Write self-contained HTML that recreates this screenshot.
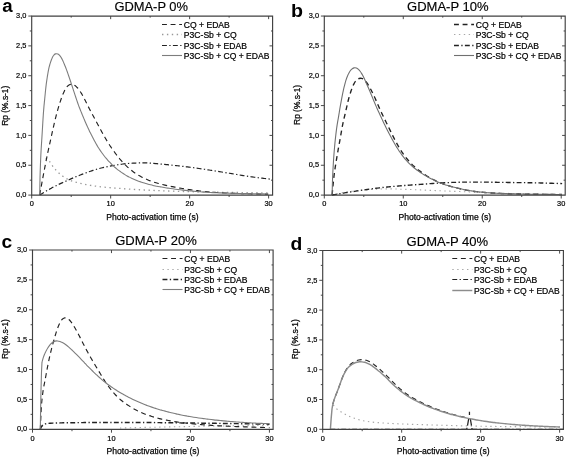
<!DOCTYPE html>
<html lang="en">
<head>
<meta charset="utf-8">
<title>Rp versus photo-activation time for GDMA-P 0%, 10%, 20% and 40%</title>
<style>
html,body{margin:0;padding:0;background:#fff;}
body{width:567px;height:458px;overflow:hidden;font-family:"Liberation Sans", sans-serif;}
svg{display:block;}
text{white-space:pre;}
</style>
</head>
<body>
<svg width="567" height="458" viewBox="0 0 567 458" font-family='"Liberation Sans", sans-serif' role="img" aria-label="Rp versus photo-activation time, four panels">
<rect width="567" height="458" fill="#fff"/>
<g>
<g stroke-linecap="butt" stroke-linejoin="round">
<path d="M45.6 158.6C45.99 158.73 47.28 158.93 47.93 159.39C48.58 159.86 49 160.71 49.5 161.4C50 162.09 50.45 162.81 50.92 163.52C51.39 164.23 51.85 164.95 52.34 165.64C52.82 166.34 53.32 167.03 53.85 167.69C54.38 168.36 54.94 169 55.51 169.63C56.08 170.26 56.67 170.88 57.27 171.48C57.87 172.08 58.48 172.68 59.11 173.24C59.74 173.81 60.39 174.36 61.06 174.89C61.72 175.42 62.41 175.93 63.1 176.42C63.8 176.91 64.5 177.38 65.23 177.83C65.95 178.28 66.68 178.71 67.44 179.1C68.19 179.49 68.97 179.85 69.75 180.17C70.54 180.5 71.34 180.78 72.14 181.06C72.95 181.33 73.76 181.59 74.58 181.83C75.39 182.07 76.21 182.3 77.03 182.52C77.85 182.74 78.68 182.95 79.5 183.15C80.33 183.35 81.16 183.55 81.99 183.73C82.82 183.92 83.65 184.09 84.48 184.26C85.32 184.43 86.15 184.59 86.99 184.74C87.83 184.9 88.66 185.05 89.5 185.19C90.34 185.33 91.18 185.48 92.02 185.61C92.86 185.75 93.7 185.88 94.54 186C95.38 186.12 96.22 186.23 97.07 186.34C97.91 186.45 98.76 186.55 99.6 186.65C100.45 186.74 101.29 186.84 102.14 186.93C102.98 187.02 103.83 187.11 104.67 187.19C105.52 187.27 106.37 187.35 107.21 187.43C108.06 187.51 108.91 187.58 109.76 187.65C110.6 187.72 111.45 187.79 112.3 187.85C113.15 187.92 113.99 187.98 114.84 188.05C115.69 188.11 116.54 188.18 117.39 188.24C118.23 188.3 119.08 188.37 119.93 188.43C120.78 188.49 121.63 188.56 122.48 188.62C123.32 188.68 124.17 188.74 125.02 188.8C125.87 188.87 126.72 188.93 127.56 188.99C128.41 189.05 129.26 189.11 130.11 189.16C130.96 189.22 131.81 189.28 132.66 189.33C133.5 189.39 134.35 189.44 135.2 189.49C136.05 189.55 136.9 189.6 137.75 189.64C138.6 189.69 139.45 189.74 140.3 189.79C141.15 189.83 141.99 189.88 142.84 189.92C143.69 189.96 144.54 190.01 145.39 190.05C146.24 190.09 147.09 190.13 147.94 190.17C148.79 190.21 149.64 190.25 150.49 190.29C151.34 190.33 152.19 190.37 153.04 190.41C153.89 190.44 154.74 190.48 155.59 190.52C156.44 190.56 157.29 190.59 158.14 190.63C158.98 190.67 159.83 190.7 160.68 190.73C161.53 190.77 162.38 190.8 163.23 190.84C164.08 190.87 164.93 190.9 165.78 190.93C166.63 190.96 167.48 190.99 168.33 191.02C169.18 191.05 170.03 191.08 170.88 191.11C171.73 191.14 172.58 191.17 173.43 191.2C174.28 191.22 175.13 191.25 175.98 191.28C176.83 191.3 177.68 191.33 178.53 191.35C179.38 191.37 180.23 191.4 181.08 191.42C181.93 191.44 182.78 191.46 183.63 191.49C184.48 191.51 185.33 191.53 186.18 191.55C187.03 191.57 187.88 191.59 188.73 191.61C189.58 191.64 190.43 191.66 191.29 191.68C192.14 191.7 192.99 191.72 193.84 191.75C194.69 191.77 195.54 191.79 196.39 191.81C197.24 191.83 198.09 191.86 198.94 191.88C199.79 191.9 200.64 191.92 201.49 191.94C202.34 191.96 203.19 191.98 204.04 191.99C204.89 192.01 205.74 192.03 206.59 192.05C207.44 192.06 208.29 192.08 209.14 192.1C209.99 192.11 210.84 192.13 211.69 192.14C212.54 192.16 213.39 192.17 214.24 192.19C215.09 192.2 215.94 192.22 216.79 192.23C217.64 192.24 218.49 192.25 219.34 192.27C220.19 192.28 221.04 192.29 221.89 192.3C222.74 192.32 223.59 192.33 224.45 192.34C225.3 192.35 226.15 192.36 227 192.38C227.85 192.39 228.7 192.4 229.55 192.41C230.4 192.42 231.25 192.43 232.1 192.44C232.95 192.46 233.8 192.47 234.65 192.48C235.5 192.49 236.35 192.5 237.2 192.51C238.05 192.52 238.9 192.53 239.75 192.54C240.6 192.55 241.45 192.56 242.3 192.57C243.15 192.59 244 192.6 244.85 192.61C245.7 192.62 246.55 192.63 247.41 192.64C248.26 192.65 249.11 192.66 249.96 192.67C250.81 192.68 251.66 192.69 252.51 192.7C253.36 192.71 254.21 192.72 255.06 192.73C255.91 192.74 256.76 192.76 257.61 192.77C258.46 192.78 259.31 192.79 260.16 192.8C261.01 192.81 261.86 192.82 262.71 192.83C263.56 192.84 264.41 192.85 265.26 192.86C266.11 192.88 267.39 192.89 267.81 192.9" fill="none" stroke="#999" stroke-width="1.3" stroke-dasharray="1.4 3.5"/>
<path d="M39.7 195C40.06 194.78 41.16 194.12 41.89 193.68C42.62 193.24 43.34 192.8 44.07 192.36C44.8 191.93 45.54 191.49 46.27 191.07C47.01 190.64 47.75 190.22 48.49 189.8C49.23 189.38 49.97 188.97 50.72 188.56C51.47 188.15 52.21 187.74 52.96 187.34C53.71 186.94 54.47 186.54 55.22 186.15C55.98 185.76 56.74 185.38 57.5 185C58.27 184.63 59.04 184.26 59.81 183.9C60.58 183.54 61.35 183.19 62.13 182.84C62.9 182.48 63.68 182.13 64.45 181.78C65.23 181.43 66 181.08 66.78 180.73C67.55 180.38 68.33 180.03 69.11 179.68C69.88 179.33 70.66 178.98 71.44 178.64C72.22 178.3 73 177.97 73.78 177.63C74.57 177.3 75.35 176.98 76.14 176.65C76.93 176.33 77.72 176.02 78.51 175.7C79.3 175.39 80.1 175.08 80.89 174.77C81.68 174.46 82.48 174.16 83.27 173.86C84.07 173.55 84.86 173.25 85.66 172.95C86.46 172.65 87.25 172.36 88.06 172.07C88.86 171.78 89.66 171.49 90.46 171.22C91.27 170.94 92.08 170.67 92.89 170.41C93.7 170.15 94.51 169.9 95.32 169.65C96.14 169.41 96.96 169.17 97.77 168.94C98.59 168.71 99.41 168.48 100.24 168.27C101.06 168.05 101.89 167.85 102.71 167.65C103.54 167.45 104.37 167.26 105.2 167.08C106.03 166.89 106.87 166.71 107.7 166.54C108.53 166.37 109.37 166.2 110.2 166.04C111.04 165.89 111.88 165.73 112.72 165.59C113.55 165.44 114.39 165.3 115.23 165.16C116.07 165.03 116.91 164.9 117.76 164.76C118.6 164.63 119.44 164.5 120.28 164.37C121.12 164.24 121.96 164.11 122.8 164C123.65 163.89 124.49 163.79 125.34 163.7C126.19 163.62 127.04 163.56 127.88 163.49C128.73 163.43 129.58 163.37 130.43 163.32C131.28 163.27 132.13 163.22 132.98 163.17C133.83 163.13 134.68 163.09 135.53 163.05C136.38 163.01 137.23 162.98 138.08 162.96C138.93 162.93 139.78 162.91 140.63 162.89C141.49 162.88 142.34 162.85 143.19 162.84C144.04 162.83 144.89 162.82 145.74 162.84C146.59 162.86 147.44 162.9 148.29 162.94C149.14 162.99 149.99 163.06 150.84 163.13C151.69 163.19 152.53 163.27 153.38 163.34C154.23 163.41 155.08 163.49 155.92 163.57C156.77 163.65 157.62 163.73 158.47 163.81C159.31 163.89 160.16 163.97 161.01 164.05C161.85 164.14 162.7 164.22 163.55 164.31C164.4 164.39 165.24 164.48 166.09 164.56C166.94 164.65 167.78 164.73 168.63 164.82C169.48 164.91 170.32 165 171.17 165.09C172.01 165.18 172.86 165.26 173.71 165.36C174.55 165.45 175.4 165.54 176.25 165.63C177.09 165.72 177.94 165.81 178.78 165.91C179.63 166 180.48 166.09 181.32 166.19C182.17 166.29 183.01 166.38 183.86 166.48C184.7 166.58 185.55 166.68 186.39 166.78C187.24 166.88 188.08 166.98 188.93 167.09C189.77 167.2 190.62 167.3 191.46 167.41C192.3 167.52 193.15 167.64 193.99 167.75C194.83 167.87 195.68 167.98 196.52 168.1C197.36 168.22 198.2 168.34 199.05 168.47C199.89 168.59 200.73 168.72 201.57 168.85C202.41 168.97 203.25 169.11 204.1 169.24C204.94 169.37 205.78 169.5 206.62 169.63C207.46 169.76 208.3 169.9 209.14 170.03C209.98 170.16 210.82 170.3 211.66 170.43C212.5 170.56 213.34 170.69 214.18 170.83C215.02 170.96 215.87 171.09 216.71 171.22C217.55 171.35 218.39 171.49 219.23 171.62C220.07 171.76 220.91 171.9 221.75 172.03C222.59 172.17 223.43 172.31 224.27 172.45C225.11 172.58 225.95 172.72 226.79 172.86C227.63 173 228.46 173.14 229.3 173.28C230.14 173.42 230.98 173.56 231.82 173.7C232.66 173.84 233.5 173.98 234.34 174.12C235.18 174.25 236.02 174.39 236.86 174.53C237.7 174.67 238.54 174.81 239.38 174.95C240.22 175.08 241.06 175.22 241.9 175.36C242.74 175.49 243.58 175.63 244.42 175.76C245.26 175.9 246.1 176.03 246.94 176.16C247.78 176.29 248.63 176.42 249.47 176.55C250.31 176.67 251.15 176.8 251.99 176.92C252.84 177.04 253.68 177.16 254.52 177.27C255.36 177.39 256.21 177.5 257.05 177.61C257.9 177.72 258.74 177.82 259.59 177.92C260.43 178.03 261.28 178.13 262.12 178.22C262.97 178.32 263.81 178.42 264.66 178.51C265.5 178.61 266.35 178.7 267.2 178.8C268.04 178.9 268.89 178.99 269.73 179.09C270.58 179.19 271.84 179.35 272.27 179.4" fill="none" stroke="#222" stroke-width="1.2" stroke-dasharray="4.9 2.4 1.3 2.3"/>
<path d="M39.7 195C39.77 194.58 40 193.34 40.15 192.51C40.3 191.68 40.45 190.85 40.59 190.02C40.74 189.19 40.89 188.35 41.04 187.52C41.19 186.69 41.34 185.86 41.49 185.03C41.64 184.2 41.79 183.37 41.94 182.54C42.09 181.71 42.25 180.88 42.4 180.05C42.56 179.22 42.71 178.39 42.87 177.56C43.03 176.74 43.18 175.91 43.34 175.08C43.5 174.25 43.66 173.42 43.82 172.59C43.98 171.76 44.14 170.93 44.3 170.11C44.46 169.28 44.62 168.45 44.78 167.62C44.94 166.79 45.1 165.96 45.27 165.14C45.43 164.31 45.59 163.48 45.75 162.65C45.91 161.82 46.08 161 46.24 160.17C46.4 159.34 46.57 158.51 46.74 157.68C46.9 156.86 47.07 156.03 47.24 155.2C47.42 154.38 47.59 153.55 47.76 152.73C47.94 151.9 48.12 151.08 48.29 150.25C48.47 149.43 48.65 148.6 48.83 147.78C49.01 146.95 49.2 146.13 49.38 145.31C49.56 144.48 49.74 143.66 49.93 142.83C50.11 142.01 50.29 141.19 50.48 140.36C50.66 139.54 50.84 138.72 51.02 137.89C51.21 137.07 51.39 136.24 51.57 135.42C51.75 134.6 51.93 133.77 52.11 132.95C52.29 132.12 52.47 131.3 52.65 130.47C52.84 129.65 53.02 128.83 53.2 128C53.38 127.18 53.57 126.36 53.76 125.53C53.94 124.71 54.13 123.89 54.33 123.07C54.52 122.24 54.72 121.42 54.92 120.6C55.12 119.78 55.32 118.97 55.53 118.15C55.73 117.33 55.94 116.51 56.15 115.69C56.37 114.88 56.58 114.06 56.8 113.25C57.02 112.43 57.24 111.62 57.47 110.8C57.69 109.99 57.92 109.18 58.15 108.37C58.39 107.56 58.62 106.75 58.87 105.94C59.11 105.13 59.36 104.33 59.62 103.52C59.88 102.72 60.14 101.92 60.41 101.12C60.67 100.31 60.94 99.51 61.22 98.72C61.49 97.92 61.76 97.12 62.06 96.33C62.36 95.54 62.67 94.76 63.01 93.98C63.34 93.21 63.7 92.44 64.07 91.68C64.44 90.93 64.8 90.16 65.22 89.43C65.63 88.69 66.04 87.94 66.55 87.28C67.07 86.62 67.64 85.95 68.31 85.47C68.98 84.99 69.79 84.57 70.59 84.41C71.38 84.26 72.3 84.32 73.09 84.55C73.87 84.77 74.63 85.25 75.31 85.74C75.98 86.23 76.56 86.87 77.14 87.48C77.71 88.1 78.24 88.76 78.75 89.43C79.27 90.1 79.77 90.78 80.24 91.48C80.71 92.18 81.15 92.9 81.58 93.62C82.01 94.35 82.41 95.09 82.81 95.83C83.22 96.58 83.6 97.33 83.99 98.08C84.37 98.83 84.75 99.59 85.12 100.34C85.5 101.1 85.87 101.86 86.24 102.61C86.62 103.37 86.99 104.12 87.37 104.88C87.76 105.63 88.14 106.38 88.53 107.13C88.91 107.88 89.31 108.63 89.7 109.37C90.09 110.12 90.49 110.87 90.89 111.61C91.28 112.36 91.68 113.1 92.08 113.84C92.48 114.59 92.87 115.33 93.27 116.08C93.67 116.82 94.07 117.56 94.47 118.31C94.87 119.05 95.27 119.79 95.67 120.53C96.07 121.28 96.47 122.02 96.88 122.76C97.28 123.5 97.68 124.24 98.09 124.98C98.49 125.73 98.89 126.47 99.29 127.21C99.69 127.95 100.09 128.7 100.49 129.44C100.89 130.18 101.29 130.93 101.69 131.67C102.1 132.41 102.5 133.15 102.91 133.89C103.32 134.63 103.73 135.36 104.15 136.09C104.58 136.82 105 137.55 105.43 138.28C105.86 139 106.3 139.73 106.74 140.45C107.18 141.17 107.62 141.89 108.07 142.6C108.52 143.32 108.97 144.03 109.42 144.74C109.88 145.45 110.34 146.15 110.82 146.85C111.29 147.55 111.77 148.25 112.25 148.94C112.74 149.63 113.23 150.31 113.72 151C114.21 151.68 114.71 152.37 115.2 153.05C115.7 153.73 116.2 154.42 116.7 155.09C117.21 155.76 117.73 156.43 118.25 157.09C118.78 157.75 119.32 158.4 119.86 159.05C120.41 159.69 120.96 160.33 121.52 160.96C122.08 161.59 122.65 162.21 123.23 162.83C123.81 163.44 124.39 164.05 124.99 164.64C125.59 165.24 126.2 165.82 126.82 166.4C127.44 166.97 128.07 167.53 128.7 168.09C129.34 168.65 129.98 169.19 130.63 169.73C131.28 170.27 131.93 170.8 132.6 171.32C133.27 171.83 133.94 172.34 134.63 172.83C135.32 173.32 136.02 173.79 136.73 174.24C137.45 174.69 138.17 175.12 138.91 175.54C139.64 175.95 140.39 176.35 141.14 176.73C141.89 177.12 142.64 177.5 143.4 177.87C144.16 178.23 144.92 178.6 145.69 178.94C146.46 179.29 147.24 179.63 148.02 179.95C148.79 180.27 149.58 180.58 150.37 180.88C151.16 181.18 151.95 181.47 152.75 181.75C153.55 182.02 154.35 182.28 155.16 182.53C155.96 182.78 156.78 183 157.59 183.23C158.4 183.45 159.22 183.67 160.04 183.88C160.85 184.09 161.67 184.3 162.49 184.5C163.31 184.7 164.13 184.9 164.95 185.09C165.77 185.28 166.6 185.46 167.42 185.64C168.25 185.83 169.07 186 169.9 186.17C170.72 186.35 171.55 186.52 172.38 186.68C173.2 186.85 174.03 187.01 174.86 187.17C175.69 187.33 176.52 187.48 177.35 187.63C178.18 187.79 179.01 187.93 179.84 188.08C180.67 188.22 181.51 188.36 182.34 188.5C183.17 188.64 184 188.77 184.84 188.9C185.67 189.03 186.51 189.15 187.34 189.27C188.18 189.4 189.01 189.52 189.85 189.64C190.68 189.77 191.52 189.89 192.35 190.01C193.19 190.13 194.02 190.25 194.86 190.36C195.69 190.47 196.53 190.58 197.37 190.69C198.21 190.79 199.04 190.89 199.88 190.99C200.72 191.08 201.56 191.17 202.4 191.26C203.24 191.35 204.08 191.43 204.92 191.52C205.76 191.6 206.6 191.68 207.44 191.76C208.28 191.84 209.12 191.91 209.96 191.98C210.8 192.06 211.64 192.12 212.48 192.19C213.32 192.26 214.17 192.32 215.01 192.38C215.85 192.44 216.69 192.49 217.53 192.55C218.38 192.6 219.22 192.65 220.06 192.7C220.9 192.75 221.75 192.79 222.59 192.84C223.43 192.88 224.27 192.92 225.12 192.96C225.96 193 226.8 193.04 227.65 193.08C228.49 193.12 229.33 193.15 230.17 193.19C231.02 193.22 231.86 193.26 232.7 193.29C233.55 193.33 234.39 193.36 235.23 193.39C236.08 193.42 236.92 193.45 237.76 193.47C238.61 193.5 239.45 193.52 240.29 193.55C241.14 193.57 241.98 193.6 242.83 193.62C243.67 193.64 244.51 193.66 245.36 193.68C246.2 193.7 247.04 193.72 247.89 193.74C248.73 193.76 249.57 193.78 250.42 193.8C251.26 193.82 252.11 193.83 252.95 193.85C253.79 193.87 254.64 193.88 255.48 193.9C256.32 193.91 257.17 193.93 258.01 193.94C258.85 193.96 259.7 193.97 260.54 193.98C261.39 193.99 262.23 194.01 263.07 194.02C263.92 194.03 264.76 194.04 265.6 194.06C266.45 194.07 267.71 194.09 268.14 194.1" fill="none" stroke="#222" stroke-width="1.15" stroke-dasharray="4.9 3.7"/>
<path d="M39.7 195C39.71 194.58 39.73 193.32 39.75 192.49C39.76 191.65 39.78 190.81 39.79 189.97C39.81 189.13 39.82 188.29 39.83 187.46C39.85 186.62 39.86 185.78 39.88 184.94C39.89 184.1 39.91 183.26 39.92 182.43C39.94 181.59 39.96 180.75 39.98 179.91C39.99 179.07 40.01 178.23 40.03 177.4C40.06 176.56 40.08 175.72 40.1 174.88C40.13 174.04 40.15 173.21 40.18 172.37C40.21 171.53 40.23 170.69 40.26 169.85C40.29 169.02 40.32 168.18 40.35 167.34C40.38 166.5 40.41 165.66 40.44 164.83C40.47 163.99 40.5 163.15 40.54 162.31C40.57 161.47 40.6 160.64 40.64 159.8C40.67 158.96 40.71 158.12 40.75 157.29C40.78 156.45 40.82 155.61 40.86 154.77C40.9 153.94 40.94 153.1 40.99 152.26C41.03 151.42 41.08 150.59 41.13 149.75C41.17 148.91 41.22 148.08 41.28 147.24C41.33 146.4 41.38 145.57 41.44 144.73C41.49 143.89 41.55 143.06 41.6 142.22C41.65 141.38 41.71 140.55 41.76 139.71C41.82 138.87 41.87 138.04 41.92 137.2C41.98 136.36 42.03 135.53 42.08 134.69C42.13 133.85 42.18 133.01 42.23 132.18C42.28 131.34 42.33 130.5 42.38 129.67C42.43 128.83 42.48 127.99 42.53 127.16C42.58 126.32 42.63 125.48 42.68 124.65C42.73 123.81 42.78 122.97 42.83 122.13C42.88 121.3 42.94 120.46 42.99 119.62C43.04 118.79 43.09 117.95 43.15 117.11C43.2 116.28 43.26 115.44 43.31 114.6C43.37 113.77 43.43 112.93 43.49 112.1C43.56 111.26 43.62 110.42 43.69 109.59C43.76 108.75 43.83 107.92 43.9 107.08C43.97 106.25 44.05 105.41 44.13 104.58C44.21 103.74 44.3 102.91 44.38 102.07C44.46 101.24 44.55 100.41 44.64 99.57C44.72 98.74 44.81 97.9 44.89 97.07C44.98 96.23 45.06 95.4 45.14 94.57C45.22 93.73 45.3 92.9 45.38 92.06C45.46 91.23 45.54 90.39 45.63 89.56C45.71 88.73 45.8 87.89 45.9 87.06C45.99 86.23 46.09 85.39 46.2 84.56C46.3 83.73 46.41 82.9 46.53 82.07C46.64 81.24 46.76 80.41 46.89 79.58C47.01 78.75 47.14 77.92 47.27 77.09C47.4 76.26 47.53 75.44 47.67 74.61C47.81 73.78 47.95 72.96 48.1 72.13C48.25 71.31 48.41 70.48 48.58 69.66C48.75 68.84 48.92 68.02 49.12 67.21C49.32 66.39 49.53 65.58 49.76 64.77C49.99 63.97 50.24 63.17 50.5 62.37C50.76 61.57 51.04 60.78 51.33 60C51.63 59.21 51.92 58.42 52.29 57.67C52.66 56.92 53.01 56.12 53.54 55.49C54.06 54.86 54.71 54.14 55.43 53.88C56.15 53.63 57.14 53.69 57.87 53.97C58.6 54.24 59.25 54.93 59.81 55.54C60.37 56.15 60.8 56.89 61.23 57.61C61.66 58.33 62.02 59.09 62.39 59.84C62.76 60.59 63.11 61.36 63.45 62.12C63.79 62.89 64.12 63.66 64.45 64.43C64.78 65.2 65.09 65.98 65.4 66.76C65.71 67.54 66.01 68.32 66.3 69.11C66.59 69.89 66.88 70.68 67.16 71.47C67.44 72.26 67.71 73.06 67.99 73.85C68.26 74.64 68.54 75.43 68.81 76.23C69.08 77.02 69.35 77.81 69.62 78.61C69.89 79.4 70.15 80.2 70.42 80.99C70.68 81.79 70.94 82.58 71.21 83.38C71.47 84.18 71.73 84.97 71.99 85.77C72.26 86.57 72.52 87.36 72.78 88.16C73.04 88.95 73.3 89.75 73.57 90.55C73.83 91.34 74.09 92.14 74.35 92.94C74.61 93.73 74.87 94.53 75.14 95.33C75.4 96.12 75.67 96.92 75.93 97.71C76.2 98.51 76.47 99.3 76.74 100.1C77.01 100.89 77.28 101.68 77.56 102.47C77.83 103.27 78.11 104.06 78.4 104.84C78.69 105.63 78.98 106.42 79.28 107.2C79.58 107.98 79.89 108.76 80.2 109.54C80.5 110.32 80.82 111.1 81.13 111.88C81.44 112.66 81.76 113.43 82.07 114.21C82.39 114.99 82.71 115.76 83.03 116.54C83.35 117.31 83.67 118.08 84 118.86C84.33 119.63 84.66 120.4 84.99 121.17C85.32 121.94 85.65 122.71 85.99 123.48C86.33 124.24 86.67 125.01 87.01 125.78C87.35 126.54 87.7 127.31 88.05 128.07C88.4 128.83 88.75 129.59 89.11 130.35C89.47 131.1 89.83 131.86 90.2 132.61C90.57 133.37 90.95 134.12 91.33 134.86C91.71 135.61 92.09 136.36 92.48 137.1C92.87 137.84 93.26 138.58 93.66 139.32C94.06 140.06 94.46 140.79 94.87 141.53C95.27 142.26 95.68 142.99 96.09 143.72C96.5 144.45 96.92 145.18 97.34 145.91C97.77 146.63 98.2 147.35 98.65 148.05C99.1 148.76 99.57 149.46 100.04 150.15C100.51 150.85 100.99 151.53 101.48 152.21C101.97 152.89 102.47 153.57 102.97 154.24C103.47 154.91 103.97 155.58 104.49 156.25C105 156.91 105.51 157.57 106.04 158.22C106.57 158.87 107.11 159.52 107.66 160.14C108.22 160.77 108.79 161.39 109.37 161.99C109.96 162.59 110.56 163.18 111.16 163.76C111.76 164.35 112.37 164.92 112.97 165.5C113.58 166.08 114.17 166.68 114.79 167.24C115.41 167.81 116.04 168.36 116.69 168.89C117.34 169.42 118.02 169.92 118.69 170.41C119.37 170.91 120.06 171.39 120.74 171.87C121.43 172.35 122.12 172.82 122.82 173.28C123.52 173.75 124.22 174.21 124.93 174.65C125.65 175.09 126.37 175.52 127.09 175.94C127.82 176.35 128.56 176.75 129.31 177.13C130.05 177.52 130.81 177.89 131.56 178.24C132.32 178.6 133.09 178.95 133.85 179.28C134.62 179.62 135.4 179.95 136.17 180.26C136.95 180.57 137.74 180.87 138.52 181.15C139.31 181.44 140.11 181.71 140.9 181.98C141.7 182.24 142.49 182.5 143.29 182.75C144.09 183 144.9 183.25 145.7 183.49C146.5 183.73 147.31 183.96 148.12 184.18C148.92 184.41 149.73 184.62 150.55 184.83C151.36 185.03 152.17 185.23 152.99 185.42C153.81 185.61 154.63 185.78 155.45 185.95C156.27 186.12 157.1 186.27 157.92 186.43C158.74 186.58 159.57 186.73 160.4 186.87C161.22 187.02 162.05 187.16 162.87 187.3C163.7 187.44 164.53 187.58 165.36 187.71C166.18 187.85 167.01 187.98 167.84 188.1C168.67 188.23 169.5 188.35 170.33 188.48C171.16 188.6 171.99 188.72 172.82 188.83C173.65 188.95 174.48 189.06 175.31 189.17C176.14 189.28 176.97 189.39 177.8 189.5C178.64 189.61 179.47 189.71 180.3 189.81C181.13 189.91 181.96 190.01 182.8 190.11C183.63 190.21 184.46 190.3 185.3 190.39C186.13 190.48 186.96 190.57 187.8 190.66C188.63 190.75 189.47 190.83 190.3 190.92C191.13 191 191.97 191.09 192.8 191.17C193.64 191.25 194.47 191.33 195.31 191.41C196.14 191.48 196.98 191.56 197.81 191.63C198.65 191.7 199.48 191.76 200.32 191.82C201.16 191.89 201.99 191.94 202.83 192C203.67 192.06 204.5 192.11 205.34 192.16C206.18 192.22 207.01 192.27 207.85 192.31C208.69 192.36 209.52 192.41 210.36 192.45C211.2 192.5 212.04 192.54 212.87 192.58C213.71 192.63 214.55 192.67 215.39 192.7C216.22 192.74 217.06 192.78 217.9 192.81C218.74 192.85 219.57 192.88 220.41 192.91C221.25 192.94 222.09 192.97 222.93 193C223.76 193.03 224.6 193.05 225.44 193.08C226.28 193.11 227.12 193.13 227.95 193.16C228.79 193.18 229.63 193.21 230.47 193.23C231.31 193.25 232.14 193.28 232.98 193.3C233.82 193.33 234.66 193.35 235.5 193.37C236.34 193.39 237.17 193.41 238.01 193.43C238.85 193.45 239.69 193.47 240.53 193.49C241.36 193.51 242.2 193.53 243.04 193.55C243.88 193.57 244.72 193.58 245.56 193.6C246.39 193.62 247.23 193.63 248.07 193.65C248.91 193.67 249.75 193.69 250.59 193.7C251.42 193.72 252.26 193.73 253.1 193.75C253.94 193.76 254.78 193.78 255.61 193.79C256.45 193.81 257.29 193.82 258.13 193.84C258.97 193.85 259.81 193.86 260.64 193.88C261.48 193.89 262.32 193.9 263.16 193.92C264 193.93 264.84 193.94 265.67 193.96C266.51 193.97 267.77 193.99 268.19 194" fill="none" stroke="#7d7d7d" stroke-width="1.1"/>
</g>
<g stroke="#404040" stroke-width="1.15" fill="none" stroke-linecap="butt">
<path d="M31.7 16.05H272.6V195.1H31.7Z"/>
<path d="M31.7 195.1v3.4M71.19 195.1v1.9M71.19 16.05v1.6M110.67 195.1v3.4M110.67 16.05v3.1M150.16 195.1v1.9M150.16 16.05v1.6M189.64 195.1v3.4M189.64 16.05v3.1M229.12 195.1v1.9M229.12 16.05v1.6M268.61 195.1v3.4M268.61 16.05v3.1M31.7 195.1h-3.4M31.7 180.18h-1.9M272.6 180.18h-1.6M31.7 165.26h-3.4M272.6 165.26h-3.1M31.7 150.34h-1.9M272.6 150.34h-1.6M31.7 135.42h-3.4M272.6 135.42h-3.1M31.7 120.5h-1.9M272.6 120.5h-1.6M31.7 105.58h-3.4M272.6 105.58h-3.1M31.7 90.65h-1.9M272.6 90.65h-1.6M31.7 75.73h-3.4M272.6 75.73h-3.1M31.7 60.81h-1.9M272.6 60.81h-1.6M31.7 45.89h-3.4M272.6 45.89h-3.1M31.7 30.97h-1.9M272.6 30.97h-1.6M31.7 16.05h-3.4" stroke-width="0.95"/>
</g>
<g font-size="7.4" fill="#000" stroke="#000" stroke-width="0.2">
<text x="31.7" y="206.3" text-anchor="middle">0</text>
<text x="110.67" y="206.3" text-anchor="middle">10</text>
<text x="189.64" y="206.3" text-anchor="middle">20</text>
<text x="268.61" y="206.3" text-anchor="middle">30</text>
<text x="26.4" y="197.2" text-anchor="end">0,0</text>
<text x="26.4" y="167.36" text-anchor="end">0,5</text>
<text x="26.4" y="137.52" text-anchor="end">1,0</text>
<text x="26.4" y="107.67" text-anchor="end">1,5</text>
<text x="26.4" y="77.83" text-anchor="end">2,0</text>
<text x="26.4" y="47.99" text-anchor="end">2,5</text>
<text x="26.4" y="18.15" text-anchor="end">3,0</text>
</g>
<text x="106.2" y="220.1" font-size="8.5" textLength="92.4" lengthAdjust="spacingAndGlyphs" fill="#0a0a0a" stroke="#000" stroke-width="0.25">Photo-activation time (s)</text>
<text transform="translate(8.4 125.7) rotate(-90)" font-size="8.5" textLength="40" lengthAdjust="spacingAndGlyphs" fill="#0a0a0a" stroke="#000" stroke-width="0.25">Rp (%.s-1)</text>
<text x="114.4" y="11.45" font-size="13.1" textLength="73.6" lengthAdjust="spacingAndGlyphs" fill="#000" stroke="#000" stroke-width="0.15">GDMA-P 0%</text>
<text x="2.3" y="12.35" font-size="17.6" font-weight="bold" fill="#000" textLength="10.4" lengthAdjust="spacingAndGlyphs">a</text>
<g font-size="8.6" fill="#000">
<path d="M162 24.5H182" fill="none" stroke="#222" stroke-width="1.15" stroke-dasharray="4.9 3.7"/>
<text x="183.8" y="27.5" textLength="46" lengthAdjust="spacingAndGlyphs" stroke="#000" stroke-width="0.22">CQ + EDAB</text>
<path d="M162 34.5H182" fill="none" stroke="#999" stroke-width="1.3" stroke-dasharray="1.4 3.5"/>
<text x="183.8" y="37.5" textLength="52.8" lengthAdjust="spacingAndGlyphs" stroke="#000" stroke-width="0.22">P3C-Sb + CQ</text>
<path d="M162 45.5H182" fill="none" stroke="#222" stroke-width="1.2" stroke-dasharray="4.9 2.4 1.3 2.3"/>
<text x="183.8" y="48.5" textLength="63.1" lengthAdjust="spacingAndGlyphs" stroke="#000" stroke-width="0.22">P3C-Sb + EDAB</text>
<path d="M162 55.5H182" fill="none" stroke="#7d7d7d" stroke-width="1.1"/>
<text x="183.8" y="58.5" textLength="85.6" lengthAdjust="spacingAndGlyphs" stroke="#000" stroke-width="0.22">P3C-Sb + CQ + EDAB</text>
</g>
</g>
<g>
<g stroke-linecap="butt" stroke-linejoin="round">
<path d="M332.1 195C332.51 194.91 333.76 194.65 334.58 194.48C335.41 194.3 336.24 194.12 337.06 193.94C337.89 193.76 338.72 193.58 339.55 193.4C340.37 193.23 341.2 193.06 342.03 192.9C342.87 192.74 343.7 192.59 344.53 192.44C345.37 192.3 346.2 192.17 347.04 192.04C347.87 191.91 348.71 191.78 349.55 191.66C350.39 191.54 351.22 191.42 352.06 191.31C352.9 191.19 353.74 191.08 354.58 190.98C355.42 190.87 356.26 190.77 357.1 190.67C357.94 190.58 358.78 190.49 359.62 190.4C360.47 190.31 361.31 190.23 362.15 190.16C362.99 190.08 363.84 190.01 364.68 189.95C365.52 189.88 366.37 189.82 367.21 189.76C368.06 189.71 368.9 189.65 369.75 189.6C370.59 189.55 371.44 189.5 372.28 189.46C373.13 189.41 373.97 189.37 374.82 189.32C375.66 189.28 376.51 189.24 377.35 189.21C378.2 189.17 379.04 189.14 379.89 189.1C380.73 189.07 381.58 189.04 382.43 189.02C383.27 188.99 384.12 188.96 384.96 188.94C385.81 188.92 386.65 188.9 387.5 188.89C388.35 188.88 389.19 188.88 390.04 188.88C390.89 188.88 391.73 188.89 392.58 188.91C393.42 188.92 394.27 188.95 395.12 188.98C395.96 189 396.81 189.04 397.65 189.07C398.5 189.11 399.34 189.14 400.19 189.18C401.03 189.21 401.88 189.24 402.73 189.27C403.57 189.3 404.42 189.33 405.26 189.36C406.11 189.38 406.95 189.41 407.8 189.44C408.65 189.47 409.49 189.5 410.34 189.53C411.18 189.56 412.03 189.59 412.87 189.62C413.72 189.65 414.57 189.68 415.41 189.72C416.26 189.75 417.1 189.78 417.95 189.82C418.79 189.85 419.64 189.88 420.48 189.92C421.33 189.96 422.18 189.99 423.02 190.03C423.87 190.07 424.71 190.11 425.56 190.15C426.4 190.19 427.25 190.23 428.09 190.27C428.94 190.31 429.78 190.35 430.63 190.39C431.47 190.43 432.32 190.47 433.16 190.51C434.01 190.54 434.85 190.58 435.7 190.62C436.55 190.65 437.39 190.69 438.24 190.72C439.08 190.76 439.93 190.79 440.77 190.82C441.62 190.86 442.46 190.89 443.31 190.92C444.16 190.96 445 190.99 445.85 191.02C446.69 191.06 447.54 191.09 448.38 191.12C449.23 191.16 450.07 191.19 450.92 191.22C451.77 191.26 452.61 191.29 453.46 191.32C454.3 191.36 455.15 191.39 455.99 191.42C456.84 191.46 457.68 191.49 458.53 191.52C459.38 191.56 460.22 191.59 461.07 191.62C461.91 191.66 462.76 191.69 463.6 191.72C464.45 191.76 465.29 191.79 466.14 191.82C466.99 191.86 467.83 191.89 468.68 191.93C469.52 191.96 470.37 191.99 471.21 192.03C472.06 192.06 472.9 192.1 473.75 192.13C474.59 192.17 475.44 192.21 476.29 192.24C477.13 192.28 477.98 192.32 478.82 192.35C479.67 192.39 480.51 192.42 481.36 192.46C482.2 192.5 483.05 192.53 483.89 192.57C484.74 192.6 485.59 192.63 486.43 192.67C487.28 192.7 488.12 192.73 488.97 192.76C489.81 192.79 490.66 192.82 491.51 192.86C492.35 192.89 493.2 192.92 494.04 192.95C494.89 192.98 495.73 193.01 496.58 193.04C497.42 193.07 498.27 193.1 499.12 193.13C499.96 193.16 500.81 193.19 501.65 193.22C502.5 193.25 503.34 193.28 504.19 193.3C505.04 193.33 505.88 193.36 506.73 193.38C507.57 193.41 508.42 193.43 509.27 193.46C510.11 193.48 510.96 193.5 511.8 193.52C512.65 193.54 513.49 193.56 514.34 193.58C515.19 193.6 516.03 193.62 516.88 193.64C517.72 193.66 518.57 193.68 519.42 193.7C520.26 193.71 521.11 193.73 521.96 193.74C522.8 193.76 523.65 193.78 524.49 193.79C525.34 193.81 526.19 193.82 527.03 193.84C527.88 193.85 528.72 193.87 529.57 193.88C530.42 193.9 531.26 193.91 532.11 193.92C532.95 193.94 533.8 193.95 534.65 193.97C535.49 193.98 536.34 193.99 537.18 194.01C538.03 194.02 538.88 194.03 539.72 194.05C540.57 194.06 541.42 194.08 542.26 194.09C543.11 194.1 543.95 194.12 544.8 194.13C545.65 194.14 546.49 194.16 547.34 194.17C548.18 194.18 549.03 194.2 549.88 194.21C550.72 194.23 551.57 194.24 552.41 194.26C553.26 194.27 554.53 194.29 554.95 194.3" fill="none" stroke="#a8a8a8" stroke-width="1.1" stroke-dasharray="1.4 3.5"/>
<path d="M332.1 195C332.52 194.93 333.77 194.72 334.6 194.58C335.43 194.44 336.27 194.3 337.1 194.16C337.94 194.02 338.77 193.87 339.6 193.73C340.44 193.59 341.27 193.45 342.1 193.32C342.94 193.18 343.77 193.04 344.61 192.91C345.44 192.77 346.28 192.64 347.11 192.5C347.95 192.37 348.78 192.24 349.62 192.1C350.45 191.97 351.29 191.84 352.12 191.71C352.96 191.58 353.79 191.45 354.63 191.32C355.46 191.19 356.3 191.06 357.13 190.93C357.97 190.8 358.81 190.68 359.64 190.55C360.48 190.43 361.31 190.3 362.15 190.18C362.99 190.06 363.82 189.94 364.66 189.82C365.5 189.7 366.34 189.58 367.17 189.47C368.01 189.35 368.85 189.23 369.68 189.12C370.52 189 371.36 188.89 372.2 188.78C373.04 188.67 373.87 188.56 374.71 188.45C375.55 188.34 376.39 188.24 377.23 188.13C378.07 188.03 378.91 187.93 379.75 187.83C380.59 187.73 381.43 187.63 382.27 187.54C383.11 187.44 383.95 187.35 384.79 187.26C385.63 187.17 386.47 187.09 387.31 187C388.15 186.92 388.99 186.83 389.83 186.75C390.68 186.67 391.52 186.59 392.36 186.51C393.2 186.44 394.04 186.36 394.89 186.29C395.73 186.21 396.57 186.14 397.41 186.07C398.26 186 399.1 185.92 399.94 185.86C400.78 185.79 401.63 185.72 402.47 185.66C403.31 185.59 404.15 185.53 405 185.47C405.84 185.41 406.68 185.35 407.53 185.29C408.37 185.23 409.21 185.18 410.06 185.12C410.9 185.06 411.75 185.01 412.59 184.95C413.43 184.89 414.28 184.83 415.12 184.78C415.96 184.72 416.81 184.66 417.65 184.6C418.49 184.53 419.34 184.47 420.18 184.41C421.02 184.35 421.86 184.28 422.71 184.22C423.55 184.15 424.39 184.09 425.24 184.02C426.08 183.96 426.92 183.89 427.77 183.83C428.61 183.76 429.45 183.7 430.29 183.64C431.14 183.58 431.98 183.52 432.82 183.46C433.67 183.41 434.51 183.35 435.36 183.3C436.2 183.24 437.04 183.19 437.89 183.14C438.73 183.09 439.57 183.04 440.42 182.99C441.26 182.94 442.11 182.9 442.95 182.85C443.79 182.8 444.64 182.76 445.48 182.72C446.33 182.67 447.17 182.63 448.02 182.6C448.86 182.56 449.71 182.52 450.55 182.49C451.4 182.45 452.24 182.42 453.09 182.39C453.93 182.37 454.78 182.34 455.62 182.32C456.47 182.29 457.31 182.27 458.16 182.25C459 182.23 459.85 182.22 460.69 182.2C461.54 182.19 462.38 182.17 463.23 182.16C464.07 182.15 464.92 182.14 465.76 182.13C466.61 182.13 467.45 182.12 468.3 182.11C469.15 182.11 469.99 182.1 470.84 182.1C471.68 182.09 472.53 182.09 473.37 182.09C474.22 182.09 475.06 182.09 475.91 182.09C476.75 182.1 477.6 182.1 478.44 182.1C479.29 182.11 480.14 182.11 480.98 182.12C481.83 182.12 482.67 182.13 483.52 182.14C484.36 182.15 485.21 182.15 486.05 182.16C486.9 182.17 487.74 182.18 488.59 182.19C489.44 182.19 490.28 182.2 491.13 182.21C491.97 182.22 492.82 182.23 493.66 182.24C494.51 182.25 495.35 182.27 496.2 182.28C497.04 182.29 497.89 182.31 498.73 182.32C499.58 182.33 500.42 182.35 501.27 182.36C502.12 182.37 502.96 182.39 503.81 182.4C504.65 182.42 505.5 182.43 506.34 182.44C507.19 182.46 508.03 182.47 508.88 182.48C509.72 182.5 510.57 182.51 511.41 182.52C512.26 182.53 513.1 182.54 513.95 182.55C514.79 182.57 515.64 182.58 516.49 182.59C517.33 182.6 518.18 182.61 519.02 182.62C519.87 182.63 520.71 182.64 521.56 182.65C522.4 182.66 523.25 182.67 524.09 182.68C524.94 182.69 525.78 182.71 526.63 182.72C527.48 182.73 528.32 182.74 529.17 182.75C530.01 182.77 530.86 182.78 531.7 182.79C532.55 182.81 533.39 182.82 534.24 182.84C535.08 182.85 535.93 182.87 536.77 182.89C537.62 182.9 538.46 182.92 539.31 182.94C540.15 182.96 541 182.98 541.84 183C542.69 183.02 543.53 183.04 544.38 183.07C545.23 183.09 546.07 183.11 546.92 183.14C547.76 183.16 548.61 183.19 549.45 183.21C550.3 183.24 551.14 183.26 551.99 183.29C552.83 183.32 553.68 183.34 554.52 183.37C555.37 183.39 556.21 183.42 557.06 183.45C557.9 183.47 558.75 183.5 559.59 183.52C560.44 183.55 561.7 183.58 562.13 183.6" fill="none" stroke="#222" stroke-width="1.35" stroke-dasharray="4.9 2.4 1.3 2.3"/>
<path d="M332.1 195C332.14 194.58 332.27 193.32 332.35 192.49C332.43 191.65 332.51 190.81 332.59 189.97C332.67 189.14 332.75 188.3 332.83 187.46C332.9 186.62 332.98 185.78 333.06 184.94C333.14 184.11 333.23 183.27 333.31 182.43C333.39 181.59 333.48 180.76 333.57 179.92C333.66 179.08 333.75 178.25 333.85 177.41C333.94 176.57 334.04 175.74 334.15 174.9C334.26 174.07 334.37 173.23 334.48 172.4C334.6 171.57 334.71 170.73 334.84 169.9C334.96 169.07 335.08 168.23 335.21 167.4C335.34 166.57 335.47 165.74 335.6 164.91C335.74 164.08 335.87 163.24 336.01 162.41C336.14 161.58 336.28 160.75 336.42 159.92C336.55 159.09 336.69 158.26 336.83 157.43C336.97 156.6 337.11 155.77 337.25 154.94C337.39 154.11 337.53 153.28 337.68 152.45C337.82 151.62 337.97 150.79 338.12 149.96C338.26 149.14 338.41 148.31 338.56 147.48C338.71 146.65 338.86 145.82 339.01 144.99C339.16 144.17 339.31 143.34 339.46 142.51C339.61 141.68 339.76 140.85 339.91 140.02C340.05 139.19 340.2 138.37 340.35 137.54C340.49 136.71 340.64 135.88 340.78 135.05C340.93 134.22 341.07 133.39 341.22 132.56C341.37 131.73 341.51 130.9 341.66 130.08C341.81 129.25 341.96 128.42 342.11 127.59C342.26 126.76 342.42 125.94 342.58 125.11C342.74 124.28 342.91 123.46 343.08 122.64C343.26 121.81 343.44 120.99 343.63 120.17C343.82 119.35 344.01 118.53 344.21 117.71C344.4 116.89 344.6 116.07 344.79 115.25C344.98 114.43 345.17 113.61 345.37 112.8C345.56 111.98 345.75 111.16 345.94 110.34C346.14 109.52 346.33 108.7 346.52 107.88C346.71 107.06 346.9 106.24 347.09 105.42C347.28 104.6 347.46 103.77 347.64 102.95C347.83 102.13 348.02 101.31 348.22 100.49C348.42 99.68 348.63 98.86 348.85 98.05C349.07 97.24 349.31 96.43 349.55 95.62C349.79 94.82 350.04 94.01 350.3 93.21C350.55 92.41 350.82 91.61 351.09 90.81C351.36 90.02 351.63 89.22 351.93 88.43C352.22 87.64 352.52 86.86 352.86 86.08C353.19 85.31 353.54 84.54 353.94 83.81C354.34 83.07 354.76 82.32 355.26 81.65C355.76 80.98 356.31 80.31 356.95 79.79C357.59 79.26 358.34 78.75 359.11 78.5C359.88 78.25 360.81 78.14 361.59 78.3C362.38 78.46 363.15 78.97 363.82 79.46C364.48 79.94 365.05 80.61 365.6 81.24C366.15 81.87 366.65 82.55 367.14 83.24C367.62 83.93 368.07 84.64 368.51 85.36C368.96 86.07 369.38 86.8 369.79 87.54C370.2 88.27 370.58 89.02 370.97 89.77C371.36 90.51 371.74 91.27 372.11 92.02C372.49 92.77 372.86 93.53 373.22 94.29C373.59 95.05 373.95 95.81 374.3 96.57C374.66 97.33 375.01 98.1 375.36 98.86C375.71 99.63 376.05 100.4 376.39 101.17C376.73 101.94 377.06 102.71 377.4 103.49C377.73 104.26 378.05 105.04 378.38 105.81C378.72 106.58 379.05 107.36 379.39 108.13C379.73 108.89 380.08 109.66 380.44 110.42C380.79 111.19 381.15 111.95 381.52 112.71C381.88 113.47 382.25 114.22 382.61 114.98C382.98 115.74 383.35 116.5 383.72 117.25C384.09 118.01 384.45 118.77 384.82 119.52C385.19 120.28 385.56 121.04 385.93 121.79C386.3 122.55 386.68 123.3 387.05 124.06C387.42 124.81 387.79 125.57 388.16 126.33C388.53 127.08 388.9 127.84 389.27 128.59C389.64 129.35 390.01 130.11 390.38 130.86C390.75 131.62 391.12 132.37 391.49 133.13C391.86 133.88 392.23 134.64 392.61 135.39C392.99 136.15 393.36 136.9 393.75 137.65C394.13 138.4 394.52 139.14 394.91 139.89C395.3 140.64 395.69 141.38 396.09 142.12C396.49 142.86 396.89 143.6 397.3 144.34C397.71 145.07 398.12 145.81 398.54 146.54C398.97 147.26 399.4 147.99 399.84 148.71C400.27 149.43 400.72 150.14 401.18 150.85C401.63 151.55 402.09 152.26 402.57 152.95C403.04 153.65 403.53 154.34 404.02 155.02C404.52 155.7 405.02 156.37 405.54 157.04C406.05 157.7 406.58 158.36 407.11 159.01C407.65 159.66 408.19 160.3 408.75 160.94C409.3 161.57 409.87 162.2 410.44 162.81C411.02 163.42 411.61 164.02 412.21 164.61C412.81 165.2 413.42 165.78 414.05 166.35C414.67 166.91 415.31 167.46 415.95 168.01C416.59 168.55 417.24 169.08 417.9 169.61C418.56 170.13 419.22 170.65 419.89 171.16C420.56 171.67 421.23 172.18 421.92 172.67C422.6 173.16 423.29 173.64 423.99 174.11C424.69 174.58 425.4 175.04 426.11 175.49C426.82 175.94 427.53 176.38 428.26 176.81C428.98 177.24 429.71 177.67 430.44 178.07C431.18 178.48 431.93 178.87 432.68 179.26C433.42 179.64 434.18 180.01 434.94 180.38C435.69 180.75 436.46 181.11 437.22 181.46C437.99 181.81 438.76 182.15 439.53 182.48C440.31 182.81 441.09 183.13 441.87 183.43C442.65 183.74 443.44 184.04 444.23 184.32C445.02 184.6 445.82 184.88 446.62 185.14C447.42 185.4 448.23 185.65 449.03 185.89C449.84 186.13 450.65 186.36 451.46 186.59C452.27 186.81 453.09 187.02 453.9 187.24C454.72 187.45 455.53 187.65 456.35 187.85C457.17 188.05 457.98 188.25 458.8 188.45C459.62 188.65 460.44 188.84 461.26 189.03C462.08 189.22 462.9 189.41 463.73 189.58C464.55 189.75 465.38 189.91 466.2 190.06C467.03 190.21 467.86 190.35 468.69 190.48C469.53 190.62 470.36 190.74 471.19 190.87C472.02 190.99 472.86 191.11 473.69 191.22C474.52 191.34 475.36 191.45 476.19 191.55C477.03 191.66 477.86 191.76 478.7 191.86C479.54 191.95 480.37 192.04 481.21 192.13C482.05 192.21 482.89 192.3 483.72 192.38C484.56 192.45 485.4 192.53 486.24 192.6C487.08 192.67 487.92 192.74 488.76 192.8C489.6 192.86 490.44 192.92 491.28 192.98C492.12 193.03 492.96 193.08 493.8 193.13C494.64 193.18 495.48 193.23 496.32 193.27C497.16 193.31 498 193.35 498.84 193.39C499.68 193.42 500.52 193.46 501.36 193.49C502.21 193.52 503.05 193.55 503.89 193.58C504.73 193.61 505.57 193.64 506.41 193.67C507.25 193.69 508.09 193.72 508.94 193.74C509.78 193.77 510.62 193.79 511.46 193.81C512.3 193.83 513.14 193.85 513.98 193.88C514.83 193.9 515.67 193.92 516.51 193.94C517.35 193.95 518.19 193.97 519.03 193.99C519.88 194.01 520.72 194.02 521.56 194.04C522.4 194.05 523.24 194.07 524.08 194.08C524.93 194.09 525.77 194.11 526.61 194.12C527.45 194.13 528.29 194.14 529.13 194.16C529.98 194.17 530.82 194.18 531.66 194.19C532.5 194.2 533.34 194.21 534.18 194.23C535.03 194.24 535.87 194.25 536.71 194.26C537.55 194.27 538.39 194.28 539.23 194.29C540.08 194.3 540.92 194.31 541.76 194.32C542.6 194.33 543.44 194.34 544.28 194.35C545.13 194.36 545.97 194.37 546.81 194.37C547.65 194.38 548.49 194.39 549.34 194.4C550.18 194.4 551.02 194.41 551.86 194.42C552.7 194.42 553.54 194.43 554.39 194.44C555.23 194.44 556.07 194.45 556.91 194.46C557.75 194.46 558.59 194.47 559.44 194.48C560.28 194.48 561.54 194.5 561.96 194.5" fill="none" stroke="#222" stroke-width="1.35" stroke-dasharray="4.9 3.7"/>
<path d="M332.1 195C332.11 194.58 332.15 193.32 332.17 192.48C332.2 191.64 332.22 190.8 332.24 189.96C332.26 189.12 332.28 188.28 332.31 187.44C332.33 186.6 332.35 185.76 332.37 184.92C332.4 184.08 332.42 183.24 332.44 182.4C332.47 181.56 332.5 180.72 332.52 179.88C332.55 179.04 332.58 178.2 332.62 177.36C332.65 176.52 332.68 175.68 332.72 174.84C332.76 174 332.8 173.17 332.84 172.33C332.88 171.49 332.92 170.65 332.97 169.81C333.01 168.97 333.06 168.13 333.11 167.29C333.15 166.45 333.2 165.61 333.25 164.78C333.3 163.94 333.36 163.1 333.41 162.26C333.46 161.42 333.52 160.58 333.57 159.74C333.63 158.91 333.69 158.07 333.75 157.23C333.81 156.39 333.87 155.55 333.93 154.72C333.99 153.88 334.06 153.04 334.13 152.2C334.19 151.37 334.26 150.53 334.33 149.69C334.4 148.85 334.48 148.02 334.55 147.18C334.63 146.34 334.71 145.51 334.79 144.67C334.87 143.83 334.95 143 335.03 142.16C335.11 141.32 335.2 140.49 335.29 139.65C335.38 138.82 335.47 137.98 335.56 137.15C335.65 136.31 335.75 135.48 335.85 134.64C335.95 133.81 336.05 132.97 336.15 132.14C336.26 131.31 336.36 130.47 336.47 129.64C336.58 128.81 336.69 127.97 336.81 127.14C336.93 126.31 337.05 125.48 337.18 124.65C337.31 123.82 337.45 122.99 337.59 122.16C337.74 121.33 337.89 120.51 338.04 119.68C338.18 118.85 338.33 118.03 338.48 117.2C338.62 116.37 338.76 115.54 338.89 114.71C339.03 113.88 339.16 113.05 339.29 112.22C339.42 111.39 339.56 110.56 339.69 109.74C339.83 108.91 339.97 108.08 340.11 107.25C340.25 106.42 340.4 105.59 340.54 104.77C340.69 103.94 340.84 103.11 340.99 102.29C341.14 101.46 341.29 100.63 341.44 99.81C341.6 98.98 341.75 98.15 341.91 97.33C342.07 96.51 342.24 95.68 342.4 94.86C342.57 94.03 342.74 93.21 342.91 92.39C343.08 91.57 343.26 90.74 343.44 89.92C343.63 89.1 343.82 88.29 344.01 87.47C344.21 86.65 344.4 85.83 344.61 85.02C344.82 84.21 345.03 83.39 345.26 82.58C345.49 81.78 345.72 80.97 345.98 80.17C346.23 79.37 346.5 78.57 346.79 77.78C347.08 77 347.4 76.21 347.73 75.44C348.07 74.68 348.41 73.91 348.81 73.17C349.2 72.43 349.61 71.68 350.1 71C350.59 70.33 351.12 69.63 351.76 69.11C352.39 68.59 353.15 68.05 353.92 67.86C354.69 67.67 355.64 67.73 356.39 67.99C357.15 68.24 357.85 68.84 358.47 69.39C359.09 69.93 359.62 70.62 360.13 71.28C360.64 71.95 361.09 72.66 361.53 73.37C361.97 74.09 362.38 74.83 362.77 75.57C363.17 76.31 363.54 77.06 363.9 77.82C364.27 78.57 364.62 79.34 364.97 80.1C365.32 80.87 365.66 81.64 366 82.4C366.34 83.17 366.68 83.94 367.01 84.71C367.35 85.48 367.69 86.25 368.02 87.02C368.35 87.8 368.68 88.57 369.01 89.34C369.34 90.11 369.67 90.89 369.99 91.66C370.32 92.44 370.64 93.21 370.97 93.99C371.29 94.76 371.62 95.54 371.94 96.31C372.26 97.09 372.58 97.87 372.9 98.64C373.22 99.42 373.54 100.2 373.86 100.97C374.19 101.75 374.51 102.52 374.84 103.3C375.17 104.07 375.5 104.84 375.84 105.61C376.17 106.38 376.51 107.15 376.85 107.92C377.19 108.69 377.53 109.46 377.88 110.22C378.22 110.99 378.58 111.75 378.93 112.51C379.28 113.28 379.63 114.04 379.98 114.8C380.34 115.56 380.69 116.33 381.05 117.09C381.4 117.85 381.76 118.61 382.11 119.37C382.47 120.13 382.83 120.89 383.19 121.65C383.55 122.41 383.92 123.17 384.28 123.92C384.65 124.68 385.02 125.43 385.39 126.19C385.76 126.94 386.14 127.69 386.52 128.44C386.89 129.19 387.27 129.94 387.65 130.69C388.04 131.44 388.42 132.19 388.81 132.93C389.19 133.68 389.58 134.42 389.97 135.17C390.36 135.91 390.76 136.65 391.16 137.39C391.55 138.13 391.95 138.87 392.36 139.61C392.76 140.34 393.17 141.08 393.58 141.81C394 142.54 394.41 143.27 394.83 144C395.25 144.73 395.68 145.45 396.11 146.17C396.54 146.89 396.98 147.61 397.43 148.32C397.87 149.03 398.33 149.74 398.79 150.44C399.25 151.15 399.72 151.84 400.2 152.53C400.67 153.23 401.16 153.91 401.65 154.59C402.15 155.27 402.65 155.94 403.17 156.6C403.69 157.27 404.22 157.92 404.75 158.57C405.29 159.21 405.84 159.85 406.4 160.47C406.96 161.1 407.53 161.72 408.11 162.33C408.69 162.93 409.28 163.53 409.89 164.11C410.49 164.7 411.11 165.27 411.73 165.83C412.36 166.39 413 166.93 413.65 167.47C414.3 168 414.96 168.52 415.63 169.03C416.29 169.54 416.97 170.04 417.65 170.54C418.33 171.03 419.01 171.52 419.7 172C420.4 172.47 421.09 172.94 421.8 173.4C422.5 173.85 423.22 174.3 423.94 174.73C424.66 175.17 425.38 175.59 426.11 176.01C426.83 176.43 427.57 176.85 428.3 177.26C429.03 177.66 429.77 178.07 430.52 178.46C431.26 178.85 432.01 179.23 432.76 179.6C433.52 179.97 434.28 180.33 435.04 180.68C435.8 181.03 436.57 181.38 437.34 181.71C438.11 182.05 438.89 182.37 439.67 182.68C440.45 183 441.23 183.3 442.02 183.59C442.8 183.89 443.6 184.17 444.39 184.44C445.19 184.71 445.99 184.97 446.79 185.22C447.59 185.47 448.4 185.71 449.2 185.94C450.01 186.18 450.82 186.4 451.63 186.63C452.44 186.85 453.25 187.06 454.07 187.27C454.88 187.48 455.69 187.69 456.51 187.89C457.33 188.09 458.14 188.29 458.96 188.49C459.78 188.68 460.59 188.88 461.41 189.07C462.23 189.26 463.05 189.44 463.87 189.61C464.7 189.78 465.52 189.94 466.35 190.09C467.18 190.23 468 190.37 468.83 190.5C469.66 190.64 470.49 190.76 471.33 190.89C472.16 191.01 472.99 191.13 473.82 191.24C474.65 191.36 475.49 191.47 476.32 191.57C477.15 191.68 477.99 191.77 478.82 191.87C479.66 191.96 480.49 192.05 481.33 192.14C482.16 192.23 483 192.31 483.84 192.39C484.67 192.46 485.51 192.54 486.35 192.61C487.19 192.68 488.02 192.75 488.86 192.81C489.7 192.87 490.54 192.93 491.38 192.98C492.21 193.04 493.05 193.09 493.89 193.14C494.73 193.19 495.57 193.23 496.41 193.27C497.25 193.32 498.09 193.35 498.93 193.39C499.77 193.43 500.61 193.46 501.45 193.49C502.29 193.53 503.12 193.56 503.96 193.59C504.8 193.62 505.64 193.64 506.48 193.67C507.32 193.69 508.16 193.72 509 193.74C509.84 193.77 510.68 193.79 511.52 193.81C512.36 193.83 513.2 193.86 514.04 193.88C514.88 193.9 515.72 193.92 516.56 193.94C517.4 193.96 518.24 193.97 519.08 193.99C519.92 194.01 520.76 194.02 521.6 194.04C522.44 194.05 523.28 194.07 524.12 194.08C524.96 194.09 525.8 194.11 526.64 194.12C527.48 194.13 528.32 194.15 529.16 194.16C530 194.17 530.84 194.18 531.68 194.19C532.53 194.2 533.37 194.21 534.21 194.23C535.05 194.24 535.89 194.25 536.73 194.26C537.57 194.27 538.41 194.28 539.25 194.29C540.09 194.3 540.93 194.31 541.77 194.32C542.61 194.33 543.45 194.34 544.29 194.35C545.13 194.36 545.97 194.37 546.81 194.37C547.65 194.38 548.49 194.39 549.33 194.4C550.17 194.4 551.01 194.41 551.85 194.42C552.69 194.42 553.53 194.43 554.37 194.44C555.21 194.44 556.05 194.45 556.89 194.46C557.73 194.46 558.57 194.47 559.41 194.48C560.25 194.48 561.51 194.5 561.93 194.5" fill="none" stroke="#707070" stroke-width="1.1"/>
</g>
<g stroke="#404040" stroke-width="1.15" fill="none" stroke-linecap="butt">
<path d="M324.3 16.05H565.2V195.1H324.3Z"/>
<path d="M324.3 195.1v3.4M363.79 195.1v1.9M363.79 16.05v1.6M403.27 195.1v3.4M403.27 16.05v3.1M442.75 195.1v1.9M442.75 16.05v1.6M482.24 195.1v3.4M482.24 16.05v3.1M521.73 195.1v1.9M521.73 16.05v1.6M561.21 195.1v3.4M561.21 16.05v3.1M324.3 195.1h-3.4M324.3 180.18h-1.9M565.2 180.18h-1.6M324.3 165.26h-3.4M565.2 165.26h-3.1M324.3 150.34h-1.9M565.2 150.34h-1.6M324.3 135.42h-3.4M565.2 135.42h-3.1M324.3 120.5h-1.9M565.2 120.5h-1.6M324.3 105.58h-3.4M565.2 105.58h-3.1M324.3 90.65h-1.9M565.2 90.65h-1.6M324.3 75.73h-3.4M565.2 75.73h-3.1M324.3 60.81h-1.9M565.2 60.81h-1.6M324.3 45.89h-3.4M565.2 45.89h-3.1M324.3 30.97h-1.9M565.2 30.97h-1.6M324.3 16.05h-3.4" stroke-width="0.95"/>
</g>
<g font-size="7.4" fill="#000" stroke="#000" stroke-width="0.2">
<text x="324.3" y="206.3" text-anchor="middle">0</text>
<text x="403.27" y="206.3" text-anchor="middle">10</text>
<text x="482.24" y="206.3" text-anchor="middle">20</text>
<text x="561.21" y="206.3" text-anchor="middle">30</text>
<text x="319" y="197.2" text-anchor="end">0,0</text>
<text x="319" y="167.36" text-anchor="end">0,5</text>
<text x="319" y="137.52" text-anchor="end">1,0</text>
<text x="319" y="107.67" text-anchor="end">1,5</text>
<text x="319" y="77.83" text-anchor="end">2,0</text>
<text x="319" y="47.99" text-anchor="end">2,5</text>
<text x="319" y="18.15" text-anchor="end">3,0</text>
</g>
<text x="398.4" y="220.1" font-size="8.5" textLength="92.8" lengthAdjust="spacingAndGlyphs" fill="#0a0a0a" stroke="#000" stroke-width="0.25">Photo-activation time (s)</text>
<text transform="translate(299.6 124.9) rotate(-90)" font-size="8.5" textLength="40" lengthAdjust="spacingAndGlyphs" fill="#0a0a0a" stroke="#000" stroke-width="0.25">Rp (%.s-1)</text>
<text x="407" y="11.45" font-size="13.1" textLength="81.6" lengthAdjust="spacingAndGlyphs" fill="#000" stroke="#000" stroke-width="0.15">GDMA-P 10%</text>
<text x="290.9" y="16.55" font-size="19" font-weight="bold" fill="#000" textLength="12" lengthAdjust="spacingAndGlyphs">b</text>
<g font-size="8.6" fill="#000">
<path d="M454 24.5H474" fill="none" stroke="#222" stroke-width="1.35" stroke-dasharray="4.9 3.7"/>
<text x="475.8" y="27.5" textLength="46" lengthAdjust="spacingAndGlyphs" stroke="#000" stroke-width="0.22">CQ + EDAB</text>
<path d="M454 34.5H474" fill="none" stroke="#a8a8a8" stroke-width="1.1" stroke-dasharray="1.4 3.5"/>
<text x="475.8" y="37.5" textLength="52.8" lengthAdjust="spacingAndGlyphs" stroke="#000" stroke-width="0.22">P3C-Sb + CQ</text>
<path d="M454 45.5H474" fill="none" stroke="#222" stroke-width="1.35" stroke-dasharray="4.9 2.4 1.3 2.3"/>
<text x="475.8" y="48.5" textLength="63.1" lengthAdjust="spacingAndGlyphs" stroke="#000" stroke-width="0.22">P3C-Sb + EDAB</text>
<path d="M454 55.5H474" fill="none" stroke="#707070" stroke-width="1.1"/>
<text x="475.8" y="58.5" textLength="85.6" lengthAdjust="spacingAndGlyphs" stroke="#000" stroke-width="0.22">P3C-Sb + CQ + EDAB</text>
</g>
</g>
<g>
<g stroke-linecap="butt" stroke-linejoin="round">
<path d="M120 428C120.43 427.99 121.72 427.96 122.58 427.94C123.43 427.92 124.29 427.9 125.15 427.88C126.01 427.86 126.87 427.84 127.73 427.82C128.58 427.79 129.44 427.77 130.3 427.75C131.16 427.73 132.02 427.71 132.88 427.69C133.73 427.67 134.59 427.65 135.45 427.63C136.31 427.61 137.17 427.59 138.03 427.57C138.88 427.55 139.74 427.53 140.6 427.51C141.46 427.49 142.32 427.47 143.18 427.45C144.03 427.43 144.89 427.41 145.75 427.39C146.61 427.37 147.47 427.35 148.33 427.34C149.19 427.32 150.04 427.3 150.9 427.28C151.76 427.26 152.62 427.24 153.48 427.23C154.34 427.21 155.19 427.19 156.05 427.17C156.91 427.15 157.77 427.14 158.63 427.12C159.49 427.1 160.34 427.08 161.2 427.06C162.06 427.05 162.92 427.03 163.78 427.01C164.64 426.99 165.5 426.98 166.35 426.96C167.21 426.94 168.07 426.92 168.93 426.9C169.79 426.89 170.65 426.87 171.5 426.85C172.36 426.83 173.22 426.82 174.08 426.8C174.94 426.78 175.8 426.77 176.66 426.75C177.51 426.73 178.37 426.71 179.23 426.7C180.09 426.68 180.95 426.66 181.81 426.64C182.66 426.63 183.52 426.61 184.38 426.59C185.24 426.58 186.1 426.56 186.96 426.54C187.81 426.53 188.67 426.51 189.53 426.49C190.39 426.48 191.25 426.46 192.11 426.44C192.97 426.43 193.82 426.41 194.68 426.4C195.54 426.38 196.4 426.36 197.26 426.35C198.12 426.33 198.98 426.32 199.83 426.3C200.69 426.29 201.55 426.27 202.41 426.26C203.27 426.24 204.13 426.23 204.98 426.21C205.84 426.2 206.7 426.19 207.56 426.17C208.42 426.16 209.28 426.15 210.14 426.13C210.99 426.12 211.85 426.11 212.71 426.09C213.57 426.08 214.43 426.07 215.29 426.06C216.15 426.04 217 426.03 217.86 426.02C218.72 426.01 219.58 426 220.44 425.99C221.3 425.97 222.16 425.96 223.01 425.95C223.87 425.94 224.73 425.93 225.59 425.92C226.45 425.91 227.31 425.9 228.16 425.89C229.02 425.88 229.88 425.87 230.74 425.85C231.6 425.84 232.46 425.83 233.32 425.82C234.17 425.81 235.03 425.8 235.89 425.79C236.75 425.78 237.61 425.77 238.47 425.76C239.33 425.75 240.18 425.73 241.04 425.72C241.9 425.71 242.76 425.7 243.62 425.69C244.48 425.68 245.34 425.67 246.19 425.66C247.05 425.65 247.91 425.64 248.77 425.63C249.63 425.62 250.49 425.61 251.35 425.6C252.2 425.59 253.06 425.58 253.92 425.58C254.78 425.57 255.64 425.56 256.5 425.55C257.36 425.54 258.21 425.53 259.07 425.52C259.93 425.51 260.79 425.5 261.65 425.49C262.51 425.48 263.37 425.47 264.22 425.46C265.08 425.45 265.94 425.44 266.8 425.43C267.66 425.42 268.95 425.41 269.38 425.4" fill="none" stroke="#a8a8a8" stroke-width="1.1" stroke-dasharray="1.4 3.5"/>
<path d="M40.3 429.3C40.47 428.91 40.9 427.69 41.35 426.98C41.79 426.27 42.32 425.55 42.97 425.04C43.62 424.53 44.45 424.19 45.25 423.92C46.05 423.66 46.91 423.58 47.75 423.47C48.6 423.36 49.45 423.32 50.29 423.27C51.14 423.21 51.99 423.16 52.84 423.12C53.69 423.08 54.54 423.05 55.39 423.02C56.24 422.99 57.08 422.96 57.93 422.94C58.78 422.92 59.63 422.9 60.48 422.88C61.33 422.86 62.18 422.85 63.03 422.83C63.88 422.82 64.73 422.8 65.58 422.79C66.43 422.78 67.28 422.77 68.13 422.75C68.98 422.74 69.83 422.73 70.68 422.72C71.53 422.71 72.38 422.7 73.23 422.69C74.07 422.68 74.92 422.67 75.77 422.67C76.62 422.66 77.47 422.65 78.32 422.64C79.17 422.63 80.02 422.63 80.87 422.62C81.72 422.61 82.57 422.6 83.42 422.6C84.27 422.59 85.12 422.58 85.97 422.58C86.82 422.57 87.67 422.57 88.52 422.56C89.37 422.55 90.22 422.55 91.07 422.54C91.92 422.54 92.77 422.53 93.62 422.53C94.47 422.53 95.32 422.52 96.16 422.52C97.01 422.51 97.86 422.51 98.71 422.51C99.56 422.5 100.41 422.5 101.26 422.5C102.11 422.49 102.96 422.49 103.81 422.49C104.66 422.48 105.51 422.48 106.36 422.48C107.21 422.47 108.06 422.47 108.91 422.47C109.76 422.47 110.61 422.47 111.46 422.46C112.31 422.46 113.16 422.46 114.01 422.46C114.86 422.46 115.71 422.45 116.56 422.45C117.41 422.45 118.26 422.45 119.1 422.45C119.95 422.45 120.8 422.45 121.65 422.45C122.5 422.45 123.35 422.45 124.2 422.45C125.05 422.45 125.9 422.45 126.75 422.45C127.6 422.45 128.45 422.45 129.3 422.45C130.15 422.46 131 422.46 131.85 422.46C132.7 422.46 133.55 422.46 134.4 422.47C135.25 422.47 136.1 422.47 136.95 422.48C137.8 422.48 138.65 422.48 139.5 422.49C140.35 422.49 141.2 422.5 142.05 422.5C142.89 422.51 143.74 422.51 144.59 422.52C145.44 422.52 146.29 422.53 147.14 422.53C147.99 422.54 148.84 422.55 149.69 422.55C150.54 422.56 151.39 422.57 152.24 422.58C153.09 422.58 153.94 422.59 154.79 422.6C155.64 422.61 156.49 422.62 157.34 422.63C158.19 422.63 159.04 422.64 159.89 422.65C160.74 422.66 161.59 422.67 162.44 422.68C163.29 422.69 164.13 422.7 164.98 422.71C165.83 422.72 166.68 422.73 167.53 422.74C168.38 422.75 169.23 422.76 170.08 422.77C170.93 422.78 171.78 422.79 172.63 422.8C173.48 422.81 174.33 422.82 175.18 422.83C176.03 422.84 176.88 422.85 177.73 422.86C178.58 422.87 179.43 422.88 180.28 422.89C181.13 422.9 181.98 422.92 182.83 422.93C183.67 422.94 184.52 422.95 185.37 422.96C186.22 422.97 187.07 422.98 187.92 422.99C188.77 423 189.62 423.01 190.47 423.02C191.32 423.03 192.17 423.04 193.02 423.05C193.87 423.06 194.72 423.07 195.57 423.08C196.42 423.09 197.27 423.1 198.12 423.11C198.97 423.12 199.82 423.13 200.67 423.14C201.52 423.15 202.37 423.16 203.22 423.17C204.06 423.18 204.91 423.19 205.76 423.2C206.61 423.21 207.46 423.23 208.31 423.24C209.16 423.25 210.01 423.26 210.86 423.27C211.71 423.28 212.56 423.29 213.41 423.3C214.26 423.31 215.11 423.32 215.96 423.34C216.81 423.35 217.66 423.36 218.51 423.37C219.36 423.38 220.21 423.39 221.06 423.4C221.91 423.41 222.76 423.43 223.6 423.44C224.45 423.45 225.3 423.46 226.15 423.47C227 423.48 227.85 423.5 228.7 423.51C229.55 423.52 230.4 423.53 231.25 423.55C232.1 423.56 232.95 423.57 233.8 423.58C234.65 423.59 235.5 423.61 236.35 423.62C237.2 423.63 238.05 423.65 238.9 423.66C239.75 423.67 240.6 423.69 241.45 423.7C242.29 423.71 243.14 423.73 243.99 423.74C244.84 423.76 245.69 423.77 246.54 423.79C247.39 423.8 248.24 423.82 249.09 423.83C249.94 423.85 250.79 423.86 251.64 423.88C252.49 423.89 253.34 423.91 254.19 423.92C255.04 423.94 255.89 423.95 256.74 423.97C257.59 423.98 258.44 424 259.28 424.02C260.13 424.03 260.98 424.05 261.83 424.06C262.68 424.08 263.53 424.09 264.38 424.11C265.23 424.12 266.08 424.14 266.93 424.15C267.78 424.17 269.05 424.19 269.48 424.2" fill="none" stroke="#222" stroke-width="1.45" stroke-dasharray="4.9 2.4 1.3 2.3"/>
<path d="M40.3 429.3C40.32 428.88 40.38 427.62 40.42 426.78C40.46 425.94 40.5 425.1 40.53 424.26C40.57 423.42 40.61 422.58 40.64 421.74C40.68 420.9 40.72 420.06 40.75 419.22C40.79 418.38 40.83 417.54 40.86 416.7C40.9 415.86 40.94 415.02 40.98 414.18C41.02 413.34 41.06 412.51 41.1 411.67C41.14 410.83 41.19 409.99 41.23 409.15C41.28 408.31 41.33 407.47 41.39 406.63C41.44 405.79 41.5 404.95 41.57 404.12C41.63 403.28 41.7 402.44 41.78 401.6C41.86 400.77 41.94 399.93 42.03 399.09C42.12 398.26 42.21 397.42 42.31 396.59C42.41 395.75 42.52 394.92 42.63 394.09C42.74 393.25 42.85 392.42 42.97 391.59C43.09 390.75 43.2 389.92 43.34 389.09C43.47 388.26 43.62 387.43 43.77 386.61C43.93 385.78 44.11 384.96 44.28 384.14C44.45 383.31 44.62 382.49 44.79 381.67C44.95 380.84 45.11 380.02 45.26 379.19C45.41 378.36 45.56 377.54 45.71 376.71C45.86 375.88 46.01 375.05 46.16 374.23C46.3 373.4 46.45 372.57 46.61 371.75C46.76 370.92 46.91 370.09 47.07 369.27C47.22 368.44 47.38 367.62 47.54 366.79C47.71 365.97 47.87 365.14 48.04 364.32C48.2 363.49 48.37 362.67 48.54 361.85C48.72 361.02 48.89 360.2 49.06 359.38C49.24 358.56 49.42 357.74 49.6 356.92C49.78 356.1 49.97 355.28 50.16 354.46C50.35 353.64 50.54 352.82 50.74 352C50.94 351.19 51.14 350.37 51.35 349.56C51.55 348.74 51.76 347.93 51.98 347.11C52.19 346.3 52.41 345.49 52.63 344.68C52.85 343.87 53.08 343.06 53.31 342.25C53.53 341.44 53.76 340.63 53.99 339.82C54.22 339.01 54.45 338.2 54.69 337.4C54.92 336.59 55.15 335.78 55.39 334.98C55.63 334.17 55.87 333.36 56.12 332.56C56.38 331.76 56.63 330.96 56.91 330.17C57.18 329.37 57.47 328.58 57.76 327.79C58.06 327.01 58.37 326.22 58.69 325.45C59.02 324.68 59.34 323.9 59.72 323.15C60.09 322.4 60.47 321.63 60.94 320.94C61.42 320.26 61.93 319.54 62.57 319.03C63.21 318.52 64.01 318.01 64.78 317.89C65.56 317.76 66.49 317.94 67.23 318.26C67.97 318.57 68.63 319.21 69.23 319.78C69.84 320.35 70.36 321.02 70.88 321.68C71.4 322.34 71.87 323.04 72.34 323.74C72.81 324.43 73.26 325.15 73.71 325.86C74.15 326.57 74.59 327.29 75.01 328.02C75.43 328.74 75.84 329.48 76.25 330.21C76.66 330.95 77.06 331.69 77.45 332.43C77.85 333.17 78.24 333.91 78.64 334.66C79.03 335.4 79.41 336.15 79.8 336.89C80.18 337.64 80.56 338.39 80.94 339.14C81.32 339.89 81.7 340.64 82.08 341.39C82.46 342.14 82.84 342.89 83.23 343.64C83.61 344.39 83.99 345.14 84.37 345.88C84.76 346.63 85.14 347.38 85.52 348.13C85.91 348.87 86.3 349.62 86.69 350.36C87.09 351.11 87.49 351.84 87.89 352.58C88.3 353.32 88.71 354.05 89.12 354.78C89.53 355.52 89.95 356.25 90.37 356.98C90.78 357.7 91.21 358.43 91.63 359.16C92.05 359.89 92.47 360.61 92.9 361.34C93.33 362.06 93.76 362.78 94.19 363.51C94.62 364.23 95.05 364.95 95.48 365.67C95.91 366.39 96.35 367.11 96.78 367.83C97.21 368.55 97.64 369.27 98.07 370C98.5 370.72 98.93 371.44 99.37 372.16C99.8 372.88 100.23 373.6 100.66 374.32C101.1 375.04 101.54 375.76 101.98 376.48C102.42 377.19 102.86 377.91 103.3 378.62C103.75 379.33 104.19 380.05 104.65 380.75C105.11 381.46 105.57 382.16 106.04 382.85C106.52 383.55 107 384.24 107.49 384.92C107.98 385.61 108.47 386.29 108.96 386.97C109.46 387.64 109.96 388.32 110.47 388.99C110.99 389.65 111.5 390.31 112.04 390.96C112.57 391.61 113.12 392.25 113.67 392.89C114.23 393.52 114.79 394.14 115.37 394.75C115.94 395.37 116.52 395.97 117.12 396.57C117.71 397.16 118.31 397.75 118.93 398.32C119.54 398.89 120.17 399.46 120.81 400C121.46 400.53 122.12 401.05 122.79 401.56C123.46 402.07 124.15 402.55 124.84 403.03C125.53 403.51 126.23 403.98 126.92 404.45C127.62 404.92 128.31 405.39 129.02 405.86C129.72 406.32 130.42 406.78 131.13 407.23C131.85 407.67 132.56 408.11 133.29 408.53C134.02 408.96 134.75 409.37 135.49 409.76C136.23 410.16 136.98 410.54 137.74 410.91C138.49 411.28 139.25 411.64 140.02 411.99C140.78 412.34 141.55 412.68 142.33 413C143.1 413.33 143.88 413.65 144.66 413.96C145.44 414.27 146.23 414.56 147.02 414.85C147.81 415.13 148.61 415.4 149.4 415.66C150.2 415.93 151 416.18 151.81 416.43C152.61 416.68 153.41 416.93 154.22 417.17C155.03 417.41 155.83 417.64 156.64 417.86C157.45 418.09 158.27 418.3 159.08 418.51C159.9 418.71 160.71 418.91 161.53 419.09C162.35 419.28 163.17 419.46 164 419.63C164.82 419.81 165.64 419.97 166.47 420.13C167.29 420.29 168.12 420.45 168.95 420.6C169.77 420.75 170.6 420.89 171.43 421.04C172.26 421.18 173.09 421.32 173.92 421.45C174.75 421.58 175.58 421.72 176.41 421.84C177.24 421.97 178.07 422.09 178.9 422.21C179.74 422.33 180.57 422.44 181.4 422.55C182.24 422.66 183.07 422.77 183.9 422.87C184.74 422.97 185.57 423.07 186.41 423.16C187.24 423.26 188.08 423.35 188.92 423.44C189.75 423.53 190.59 423.62 191.42 423.7C192.26 423.79 193.1 423.87 193.93 423.95C194.77 424.03 195.61 424.11 196.44 424.19C197.28 424.26 198.12 424.34 198.96 424.41C199.79 424.48 200.63 424.55 201.47 424.62C202.31 424.69 203.14 424.76 203.98 424.82C204.82 424.89 205.66 424.95 206.5 425.01C207.34 425.07 208.17 425.13 209.01 425.19C209.85 425.25 210.69 425.31 211.53 425.36C212.37 425.42 213.21 425.47 214.04 425.52C214.88 425.58 215.72 425.63 216.56 425.67C217.4 425.72 218.24 425.77 219.08 425.81C219.92 425.86 220.76 425.9 221.6 425.94C222.44 425.98 223.28 426.02 224.12 426.06C224.96 426.09 225.8 426.13 226.64 426.16C227.48 426.2 228.32 426.23 229.16 426.27C230 426.3 230.84 426.33 231.68 426.37C232.52 426.4 233.36 426.44 234.2 426.47C235.04 426.5 235.88 426.53 236.72 426.57C237.56 426.6 238.4 426.63 239.24 426.66C240.08 426.7 240.92 426.73 241.76 426.76C242.6 426.79 243.44 426.82 244.28 426.84C245.12 426.87 245.96 426.9 246.8 426.93C247.64 426.96 248.48 426.99 249.32 427.01C250.16 427.04 251 427.07 251.84 427.09C252.68 427.12 253.52 427.15 254.36 427.17C255.2 427.2 256.04 427.22 256.88 427.25C257.72 427.27 258.56 427.3 259.4 427.32C260.24 427.34 261.08 427.37 261.92 427.39C262.76 427.41 263.6 427.44 264.44 427.46C265.28 427.48 266.12 427.51 266.96 427.53C267.8 427.55 269.06 427.59 269.48 427.6" fill="none" stroke="#222" stroke-width="1.15" stroke-dasharray="4.9 3.7"/>
<path d="M40.3 429.3L40.6 410L41 390L41.5 372L42 362" fill="none" stroke="#7d7d7d" stroke-width="1.1"/>
<path d="M42 362C42.12 361.59 42.45 360.37 42.7 359.56C42.94 358.75 43.18 357.94 43.45 357.14C43.72 356.34 44.02 355.54 44.33 354.76C44.65 353.97 44.99 353.19 45.35 352.43C45.7 351.66 46.08 350.9 46.49 350.16C46.89 349.42 47.32 348.69 47.77 347.97C48.23 347.26 48.71 346.56 49.22 345.89C49.73 345.22 50.25 344.54 50.83 343.93C51.42 343.32 52.02 342.7 52.71 342.23C53.41 341.77 54.2 341.37 55 341.15C55.79 340.94 56.68 340.89 57.51 340.94C58.34 340.99 59.19 341.21 59.99 341.47C60.79 341.72 61.57 342.09 62.32 342.47C63.07 342.85 63.79 343.3 64.5 343.76C65.21 344.23 65.89 344.73 66.56 345.25C67.23 345.76 67.88 346.31 68.52 346.86C69.16 347.41 69.79 347.98 70.42 348.55C71.04 349.12 71.66 349.69 72.27 350.27C72.89 350.86 73.5 351.44 74.1 352.04C74.71 352.63 75.31 353.22 75.9 353.82C76.5 354.42 77.1 355.02 77.69 355.63C78.28 356.23 78.87 356.84 79.46 357.45C80.05 358.06 80.63 358.67 81.21 359.29C81.79 359.9 82.36 360.52 82.94 361.14C83.51 361.76 84.08 362.39 84.66 363.01C85.24 363.63 85.81 364.25 86.4 364.86C86.98 365.47 87.57 366.08 88.16 366.68C88.76 367.29 89.36 367.88 89.95 368.48C90.55 369.08 91.16 369.67 91.76 370.26C92.37 370.86 92.97 371.45 93.58 372.03C94.19 372.62 94.8 373.21 95.42 373.79C96.03 374.37 96.65 374.94 97.27 375.52C97.9 376.09 98.53 376.65 99.16 377.22C99.79 377.78 100.42 378.34 101.06 378.9C101.7 379.45 102.34 380.01 102.99 380.55C103.64 381.09 104.29 381.63 104.96 382.15C105.62 382.67 106.3 383.18 106.98 383.69C107.65 384.2 108.33 384.7 109.02 385.2C109.7 385.7 110.38 386.2 111.07 386.69C111.76 387.18 112.45 387.67 113.15 388.15C113.85 388.63 114.55 389.1 115.25 389.57C115.96 390.03 116.67 390.49 117.39 390.94C118.1 391.4 118.82 391.84 119.54 392.28C120.27 392.72 120.99 393.15 121.72 393.58C122.45 394.01 123.19 394.43 123.93 394.84C124.66 395.25 125.41 395.66 126.15 396.06C126.9 396.46 127.65 396.85 128.41 397.23C129.16 397.61 129.92 397.99 130.68 398.36C131.44 398.73 132.2 399.1 132.96 399.46C133.73 399.83 134.49 400.19 135.26 400.54C136.03 400.9 136.8 401.25 137.57 401.59C138.34 401.94 139.12 402.28 139.9 402.61C140.67 402.95 141.45 403.28 142.24 403.6C143.02 403.92 143.81 404.23 144.6 404.53C145.38 404.84 146.18 405.13 146.97 405.43C147.76 405.72 148.56 406 149.36 406.29C150.16 406.57 150.96 406.85 151.76 407.12C152.56 407.39 153.36 407.66 154.16 407.93C154.97 408.19 155.77 408.45 156.58 408.7C157.39 408.95 158.2 409.2 159.01 409.44C159.82 409.68 160.63 409.92 161.45 410.15C162.26 410.38 163.08 410.6 163.89 410.82C164.71 411.04 165.53 411.26 166.35 411.48C167.16 411.69 167.98 411.9 168.8 412.11C169.62 412.32 170.44 412.52 171.27 412.72C172.09 412.92 172.91 413.12 173.74 413.31C174.56 413.5 175.39 413.69 176.21 413.87C177.04 414.06 177.86 414.23 178.69 414.41C179.52 414.59 180.35 414.76 181.18 414.93C182.01 415.1 182.84 415.26 183.67 415.42C184.5 415.58 185.33 415.74 186.16 415.89C186.99 416.05 187.83 416.19 188.66 416.34C189.49 416.49 190.33 416.63 191.16 416.77C192 416.91 192.83 417.04 193.67 417.17C194.5 417.3 195.34 417.43 196.18 417.56C197.01 417.69 197.85 417.81 198.69 417.93C199.52 418.05 200.36 418.17 201.2 418.29C202.04 418.41 202.88 418.52 203.71 418.63C204.55 418.74 205.39 418.85 206.23 418.96C207.07 419.06 207.91 419.17 208.75 419.27C209.59 419.37 210.43 419.47 211.27 419.57C212.11 419.67 212.95 419.76 213.79 419.85C214.63 419.95 215.48 420.04 216.32 420.12C217.16 420.21 218 420.3 218.84 420.39C219.68 420.47 220.53 420.56 221.37 420.64C222.21 420.72 223.05 420.8 223.89 420.88C224.74 420.96 225.58 421.04 226.42 421.11C227.26 421.19 228.11 421.26 228.95 421.33C229.79 421.4 230.64 421.47 231.48 421.54C232.32 421.61 233.17 421.68 234.01 421.75C234.85 421.81 235.7 421.88 236.54 421.94C237.38 422.01 238.23 422.07 239.07 422.13C239.92 422.19 240.76 422.26 241.6 422.31C242.45 422.37 243.29 422.43 244.14 422.48C244.98 422.54 245.82 422.59 246.67 422.64C247.51 422.69 248.36 422.74 249.2 422.79C250.05 422.84 250.89 422.89 251.74 422.93C252.58 422.98 253.43 423.02 254.27 423.06C255.12 423.11 255.96 423.15 256.81 423.19C257.65 423.23 258.5 423.26 259.34 423.3C260.19 423.34 261.03 423.37 261.88 423.4C262.73 423.44 263.57 423.47 264.42 423.5C265.26 423.53 266.11 423.57 266.95 423.6C267.8 423.63 269.07 423.68 269.49 423.7" fill="none" stroke="#7d7d7d" stroke-width="1.1"/>
</g>
<g stroke="#404040" stroke-width="1.15" fill="none" stroke-linecap="butt">
<path d="M32.5 250H273.1V429.3H32.5Z"/>
<path d="M32.5 429.3v3.4M71.98 429.3v1.9M71.98 250v1.6M111.47 429.3v3.4M111.47 250v3.1M150.95 429.3v1.9M150.95 250v1.6M190.44 429.3v3.4M190.44 250v3.1M229.93 429.3v1.9M229.93 250v1.6M269.41 429.3v3.4M269.41 250v3.1M32.5 429.3h-3.4M32.5 414.36h-1.9M273.1 414.36h-1.6M32.5 399.42h-3.4M273.1 399.42h-3.1M32.5 384.48h-1.9M273.1 384.48h-1.6M32.5 369.53h-3.4M273.1 369.53h-3.1M32.5 354.59h-1.9M273.1 354.59h-1.6M32.5 339.65h-3.4M273.1 339.65h-3.1M32.5 324.71h-1.9M273.1 324.71h-1.6M32.5 309.77h-3.4M273.1 309.77h-3.1M32.5 294.82h-1.9M273.1 294.82h-1.6M32.5 279.88h-3.4M273.1 279.88h-3.1M32.5 264.94h-1.9M273.1 264.94h-1.6M32.5 250h-3.4" stroke-width="0.95"/>
</g>
<g font-size="7.4" fill="#000" stroke="#000" stroke-width="0.2">
<text x="32.5" y="440.5" text-anchor="middle">0</text>
<text x="111.47" y="440.5" text-anchor="middle">10</text>
<text x="190.44" y="440.5" text-anchor="middle">20</text>
<text x="269.41" y="440.5" text-anchor="middle">30</text>
<text x="27.2" y="431.4" text-anchor="end">0,0</text>
<text x="27.2" y="401.52" text-anchor="end">0,5</text>
<text x="27.2" y="371.63" text-anchor="end">1,0</text>
<text x="27.2" y="341.75" text-anchor="end">1,5</text>
<text x="27.2" y="311.87" text-anchor="end">2,0</text>
<text x="27.2" y="281.98" text-anchor="end">2,5</text>
<text x="27.2" y="252.1" text-anchor="end">3,0</text>
</g>
<text x="106.5" y="454.3" font-size="8.5" textLength="93" lengthAdjust="spacingAndGlyphs" fill="#0a0a0a" stroke="#000" stroke-width="0.25">Photo-activation time (s)</text>
<text transform="translate(8 359.1) rotate(-90)" font-size="8.5" textLength="40" lengthAdjust="spacingAndGlyphs" fill="#0a0a0a" stroke="#000" stroke-width="0.25">Rp (%.s-1)</text>
<text x="115.2" y="245.4" font-size="13.1" textLength="81.6" lengthAdjust="spacingAndGlyphs" fill="#000" stroke="#000" stroke-width="0.15">GDMA-P 20%</text>
<text x="1.5" y="248" font-size="18" font-weight="bold" fill="#000" textLength="10.7" lengthAdjust="spacingAndGlyphs">c</text>
<g font-size="8.6" fill="#000">
<path d="M162.5 258.5H182.5" fill="none" stroke="#222" stroke-width="1.15" stroke-dasharray="4.9 3.7"/>
<text x="184.3" y="261.5" textLength="46" lengthAdjust="spacingAndGlyphs" stroke="#000" stroke-width="0.22">CQ + EDAB</text>
<path d="M162.5 269.5H182.5" fill="none" stroke="#a8a8a8" stroke-width="1.1" stroke-dasharray="1.4 3.5"/>
<text x="184.3" y="272.5" textLength="52.8" lengthAdjust="spacingAndGlyphs" stroke="#000" stroke-width="0.22">P3C-Sb + CQ</text>
<path d="M162.5 279.5H182.5" fill="none" stroke="#222" stroke-width="1.45" stroke-dasharray="4.9 2.4 1.3 2.3"/>
<text x="184.3" y="282.5" textLength="63.1" lengthAdjust="spacingAndGlyphs" stroke="#000" stroke-width="0.22">P3C-Sb + EDAB</text>
<path d="M162.5 289.5H182.5" fill="none" stroke="#7d7d7d" stroke-width="1.1"/>
<text x="184.3" y="292.5" textLength="85.6" lengthAdjust="spacingAndGlyphs" stroke="#000" stroke-width="0.22">P3C-Sb + CQ + EDAB</text>
</g>
</g>
<g>
<g stroke-linecap="butt" stroke-linejoin="round">
<path d="M333.3 405C333.56 405.34 334.28 406.39 334.84 407.02C335.4 407.66 336.01 408.26 336.64 408.81C337.28 409.36 337.99 409.85 338.68 410.34C339.37 410.82 340.08 411.29 340.79 411.74C341.51 412.2 342.23 412.65 342.96 413.08C343.69 413.51 344.43 413.92 345.18 414.32C345.92 414.72 346.68 415.1 347.45 415.47C348.21 415.83 348.98 416.18 349.76 416.51C350.54 416.85 351.33 417.15 352.13 417.45C352.92 417.75 353.71 418.04 354.51 418.33C355.31 418.61 356.11 418.89 356.92 419.15C357.73 419.41 358.54 419.65 359.36 419.88C360.17 420.1 361 420.29 361.83 420.48C362.65 420.66 363.49 420.82 364.32 420.97C365.15 421.12 365.99 421.26 366.83 421.39C367.67 421.52 368.51 421.64 369.34 421.76C370.18 421.87 371.03 421.98 371.87 422.08C372.71 422.18 373.55 422.27 374.39 422.35C375.24 422.43 376.08 422.5 376.93 422.57C377.77 422.64 378.62 422.69 379.46 422.75C380.31 422.81 381.16 422.87 382 422.92C382.85 422.98 383.69 423.03 384.54 423.09C385.38 423.14 386.23 423.19 387.08 423.24C387.92 423.29 388.77 423.34 389.62 423.39C390.46 423.44 391.31 423.49 392.15 423.53C393 423.58 393.85 423.62 394.69 423.66C395.54 423.7 396.39 423.74 397.23 423.78C398.08 423.82 398.93 423.86 399.77 423.89C400.62 423.93 401.47 423.96 402.31 424C403.16 424.03 404.01 424.06 404.86 424.09C405.7 424.12 406.55 424.15 407.4 424.18C408.24 424.21 409.09 424.24 409.94 424.27C410.78 424.3 411.63 424.32 412.48 424.35C413.33 424.38 414.17 424.41 415.02 424.44C415.87 424.46 416.71 424.49 417.56 424.52C418.41 424.55 419.26 424.57 420.1 424.6C420.95 424.63 421.8 424.65 422.64 424.68C423.49 424.71 424.34 424.73 425.19 424.76C426.03 424.79 426.88 424.81 427.73 424.84C428.58 424.86 429.42 424.89 430.27 424.91C431.12 424.94 431.96 424.96 432.81 424.99C433.66 425.01 434.51 425.04 435.35 425.06C436.2 425.09 437.05 425.11 437.89 425.14C438.74 425.16 439.59 425.19 440.44 425.21C441.28 425.24 442.13 425.26 442.98 425.29C443.82 425.31 444.67 425.34 445.52 425.37C446.37 425.39 447.21 425.42 448.06 425.44C448.91 425.47 449.76 425.5 450.6 425.52C451.45 425.55 452.3 425.57 453.14 425.6C453.99 425.62 454.84 425.65 455.69 425.67C456.53 425.69 457.38 425.72 458.23 425.74C459.07 425.76 459.92 425.78 460.77 425.8C461.62 425.82 462.46 425.84 463.31 425.86C464.16 425.88 465.01 425.9 465.85 425.92C466.7 425.94 467.55 425.96 468.4 425.97C469.24 425.99 470.09 426.01 470.94 426.03C471.79 426.05 472.63 426.06 473.48 426.08C474.33 426.1 475.17 426.11 476.02 426.13C476.87 426.15 477.72 426.16 478.56 426.18C479.41 426.2 480.26 426.21 481.11 426.23C481.95 426.24 482.8 426.26 483.65 426.27C484.5 426.29 485.34 426.3 486.19 426.31C487.04 426.33 487.89 426.34 488.73 426.35C489.58 426.36 490.43 426.38 491.28 426.39C492.12 426.4 492.97 426.41 493.82 426.42C494.67 426.43 495.51 426.45 496.36 426.46C497.21 426.47 498.06 426.48 498.9 426.49C499.75 426.5 500.6 426.51 501.45 426.52C502.29 426.53 503.14 426.53 503.99 426.54C504.84 426.55 505.68 426.56 506.53 426.57C507.38 426.58 508.23 426.59 509.07 426.59C509.92 426.6 510.77 426.61 511.62 426.62C512.46 426.63 513.31 426.63 514.16 426.64C515.01 426.65 515.85 426.65 516.7 426.66C517.55 426.67 518.4 426.68 519.25 426.68C520.09 426.69 520.94 426.7 521.79 426.7C522.64 426.71 523.48 426.72 524.33 426.72C525.18 426.73 526.03 426.74 526.87 426.74C527.72 426.75 528.57 426.76 529.42 426.76C530.26 426.77 531.11 426.78 531.96 426.78C532.81 426.79 533.65 426.8 534.5 426.8C535.35 426.81 536.2 426.82 537.04 426.82C537.89 426.83 538.74 426.83 539.59 426.84C540.43 426.85 541.28 426.85 542.13 426.86C542.98 426.87 543.82 426.87 544.67 426.88C545.52 426.89 546.37 426.89 547.21 426.9C548.06 426.91 548.91 426.91 549.76 426.92C550.6 426.92 551.45 426.93 552.3 426.94C553.15 426.94 553.99 426.95 554.84 426.96C555.69 426.96 556.54 426.97 557.39 426.98C558.23 426.99 559.5 427 559.93 427" fill="none" stroke="#a6a6a6" stroke-width="1.15" stroke-dasharray="1.4 3.5"/>
<path d="M469.45 411.7V415M468.7 418.6L467.5 425.6M470.3 418.6L471.5 425.6M466.2 428.4h1.3M471.3 428.5h1.3" fill="none" stroke="#222" stroke-width="1.25"/>
<path d="M330.4 429.3H467M472.3 429.3H563" fill="none" stroke="#222" stroke-width="1.2" stroke-dasharray="4.9 2.4 1.3 2.3"/>
<path d="M332.8 404.4C332.91 403.99 333.24 402.75 333.47 401.94C333.7 401.12 333.93 400.29 334.19 399.48C334.45 398.67 334.74 397.87 335.04 397.08C335.35 396.28 335.69 395.5 336.01 394.71C336.33 393.92 336.66 393.14 336.97 392.35C337.28 391.56 337.58 390.76 337.88 389.96C338.17 389.16 338.46 388.36 338.75 387.56C339.04 386.76 339.33 385.96 339.62 385.16C339.91 384.36 340.19 383.55 340.48 382.75C340.76 381.95 341.04 381.15 341.33 380.35C341.63 379.55 341.92 378.75 342.23 377.95C342.54 377.16 342.87 376.37 343.21 375.59C343.55 374.81 343.91 374.04 344.28 373.27C344.65 372.51 345.03 371.75 345.44 371C345.85 370.25 346.26 369.51 346.72 368.79C347.18 368.08 347.66 367.37 348.2 366.71C348.73 366.05 349.32 365.42 349.94 364.84C350.55 364.26 351.22 363.72 351.9 363.21C352.58 362.7 353.3 362.23 354.03 361.81C354.77 361.39 355.54 361.01 356.33 360.7C357.12 360.39 357.94 360.14 358.77 359.95C359.6 359.77 360.45 359.65 361.3 359.62C362.15 359.58 363.01 359.62 363.85 359.73C364.69 359.84 365.53 360.03 366.34 360.28C367.15 360.53 367.95 360.85 368.71 361.22C369.48 361.58 370.21 362.02 370.94 362.47C371.66 362.92 372.36 363.41 373.05 363.9C373.75 364.39 374.42 364.91 375.1 365.43C375.77 365.95 376.43 366.49 377.09 367.03C377.75 367.57 378.4 368.11 379.05 368.67C379.7 369.22 380.34 369.78 380.98 370.34C381.61 370.91 382.24 371.48 382.87 372.06C383.49 372.64 384.11 373.22 384.73 373.81C385.35 374.39 385.96 374.98 386.57 375.58C387.18 376.18 387.78 376.78 388.37 377.39C388.97 378 389.55 378.61 390.14 379.23C390.73 379.85 391.31 380.47 391.91 381.08C392.5 381.69 393.09 382.3 393.7 382.9C394.3 383.5 394.91 384.09 395.53 384.68C396.14 385.27 396.76 385.86 397.38 386.43C398.01 387.01 398.64 387.58 399.28 388.14C399.92 388.7 400.58 389.25 401.23 389.79C401.89 390.34 402.55 390.87 403.22 391.4C403.88 391.93 404.56 392.45 405.24 392.96C405.92 393.48 406.6 393.98 407.3 394.47C408 394.95 408.71 395.43 409.43 395.89C410.14 396.35 410.87 396.79 411.6 397.23C412.33 397.66 413.07 398.09 413.81 398.5C414.55 398.92 415.3 399.33 416.05 399.73C416.8 400.14 417.55 400.54 418.31 400.93C419.06 401.32 419.82 401.71 420.58 402.09C421.34 402.47 422.11 402.85 422.87 403.22C423.64 403.59 424.41 403.95 425.18 404.31C425.96 404.66 426.73 405.01 427.51 405.36C428.29 405.7 429.07 406.04 429.86 406.37C430.64 406.71 431.42 407.04 432.21 407.36C433 407.68 433.79 408 434.58 408.32C435.37 408.63 436.17 408.94 436.96 409.24C437.76 409.54 438.56 409.84 439.36 410.13C440.16 410.42 440.96 410.7 441.76 410.98C442.57 411.26 443.38 411.53 444.18 411.8C444.99 412.06 445.8 412.32 446.62 412.57C447.43 412.82 448.25 413.06 449.06 413.3C449.88 413.54 450.7 413.77 451.52 414C452.34 414.23 453.16 414.46 453.98 414.68C454.81 414.9 455.63 415.12 456.45 415.34C457.27 415.56 458.1 415.77 458.93 415.98C459.75 416.18 460.58 416.38 461.41 416.58C462.23 416.78 463.06 416.98 463.89 417.18C464.72 417.37 465.96 417.67 466.37 417.77" fill="none" stroke="#222" stroke-width="1.15" stroke-dasharray="4.9 3.7"/>
<path d="M330.4 429.3L331.2 418L332 409L332.8 404.4" fill="none" stroke="#8c8c8c" stroke-width="1.45"/>
<path d="M332.8 404.4C332.91 403.99 333.23 402.77 333.46 401.96C333.69 401.15 333.91 400.34 334.17 399.54C334.43 398.73 334.71 397.94 335.01 397.15C335.31 396.37 335.65 395.59 335.97 394.81C336.28 394.03 336.61 393.26 336.92 392.47C337.23 391.69 337.52 390.9 337.82 390.11C338.11 389.32 338.39 388.53 338.68 387.74C338.97 386.95 339.26 386.15 339.55 385.36C339.84 384.57 340.12 383.78 340.41 382.99C340.7 382.2 340.98 381.4 341.27 380.61C341.56 379.82 341.86 379.03 342.17 378.25C342.49 377.47 342.81 376.69 343.16 375.93C343.51 375.16 343.87 374.4 344.26 373.65C344.65 372.9 345.04 372.16 345.47 371.43C345.9 370.71 346.34 369.99 346.84 369.31C347.33 368.63 347.85 367.96 348.43 367.35C349.01 366.74 349.65 366.18 350.3 365.65C350.96 365.13 351.65 364.64 352.37 364.2C353.09 363.76 353.83 363.34 354.59 363.01C355.36 362.67 356.17 362.39 356.98 362.19C357.8 362 358.64 361.88 359.48 361.83C360.32 361.77 361.17 361.79 362 361.87C362.84 361.95 363.68 362.1 364.49 362.29C365.31 362.49 366.12 362.75 366.9 363.06C367.68 363.36 368.45 363.72 369.19 364.11C369.94 364.51 370.66 364.95 371.36 365.41C372.07 365.86 372.76 366.36 373.44 366.85C374.12 367.35 374.78 367.87 375.44 368.39C376.11 368.9 376.76 369.43 377.42 369.96C378.07 370.49 378.73 371.03 379.37 371.57C380.02 372.11 380.66 372.65 381.3 373.2C381.94 373.75 382.57 374.31 383.2 374.87C383.82 375.43 384.45 376 385.06 376.58C385.67 377.16 386.28 377.74 386.87 378.34C387.47 378.93 388.05 379.54 388.64 380.14C389.23 380.74 389.82 381.35 390.41 381.95C391.01 382.54 391.61 383.13 392.22 383.72C392.82 384.3 393.44 384.87 394.06 385.44C394.69 386.01 395.31 386.57 395.95 387.12C396.58 387.68 397.23 388.22 397.87 388.76C398.52 389.3 399.18 389.83 399.84 390.35C400.49 390.88 401.16 391.4 401.82 391.91C402.49 392.42 403.16 392.94 403.84 393.43C404.52 393.93 405.21 394.42 405.9 394.9C406.6 395.37 407.3 395.83 408.01 396.28C408.73 396.73 409.45 397.16 410.18 397.59C410.9 398.02 411.64 398.43 412.37 398.84C413.11 399.25 413.85 399.65 414.59 400.05C415.34 400.44 416.08 400.83 416.83 401.22C417.58 401.6 418.33 401.98 419.09 402.35C419.84 402.73 420.6 403.09 421.36 403.45C422.13 403.81 422.89 404.17 423.66 404.51C424.43 404.86 425.2 405.2 425.97 405.53C426.75 405.86 427.52 406.19 428.3 406.51C429.08 406.84 429.86 407.15 430.64 407.46C431.42 407.78 432.21 408.08 432.99 408.38C433.78 408.69 434.57 408.98 435.36 409.27C436.15 409.56 436.95 409.84 437.74 410.12C438.54 410.4 439.33 410.67 440.13 410.94C440.93 411.21 441.73 411.47 442.53 411.73C443.33 411.99 444.14 412.25 444.94 412.5C445.74 412.75 446.55 412.99 447.36 413.23C448.16 413.48 448.97 413.71 449.78 413.94C450.59 414.17 451.4 414.4 452.22 414.62C453.03 414.84 453.85 415.05 454.66 415.26C455.48 415.47 456.29 415.67 457.11 415.88C457.93 416.08 458.75 416.27 459.57 416.46C460.39 416.65 461.21 416.84 462.03 417.03C462.86 417.21 463.68 417.39 464.5 417.57C465.33 417.75 466.15 417.92 466.97 418.09C467.8 418.26 468.62 418.43 469.45 418.59C470.28 418.76 471.1 418.92 471.93 419.07C472.76 419.23 473.59 419.39 474.42 419.54C475.24 419.69 476.07 419.84 476.9 419.98C477.73 420.13 478.56 420.27 479.39 420.41C480.23 420.55 481.06 420.68 481.89 420.82C482.72 420.95 483.55 421.08 484.38 421.21C485.22 421.33 486.05 421.46 486.88 421.58C487.72 421.7 488.55 421.82 489.39 421.93C490.22 422.04 491.06 422.16 491.89 422.26C492.73 422.37 493.56 422.47 494.4 422.57C495.24 422.67 496.07 422.77 496.91 422.86C497.75 422.96 498.58 423.05 499.42 423.14C500.26 423.23 501.1 423.32 501.94 423.4C502.77 423.49 503.61 423.57 504.45 423.65C505.29 423.73 506.13 423.81 506.97 423.89C507.8 423.97 508.64 424.05 509.48 424.13C510.32 424.2 511.16 424.28 512 424.35C512.84 424.42 513.68 424.49 514.52 424.56C515.36 424.63 516.2 424.7 517.04 424.77C517.88 424.84 518.71 424.9 519.55 424.97C520.39 425.03 521.23 425.09 522.08 425.15C522.92 425.21 523.76 425.27 524.6 425.32C525.44 425.38 526.28 425.43 527.12 425.49C527.96 425.54 528.8 425.59 529.64 425.64C530.48 425.69 531.32 425.74 532.16 425.79C533 425.83 533.85 425.88 534.69 425.93C535.53 425.97 536.37 426.01 537.21 426.06C538.05 426.1 538.89 426.15 539.73 426.19C540.58 426.23 541.42 426.27 542.26 426.31C543.1 426.35 543.94 426.38 544.78 426.42C545.62 426.45 546.47 426.49 547.31 426.52C548.15 426.56 548.99 426.59 549.83 426.62C550.67 426.65 551.52 426.68 552.36 426.71C553.2 426.74 554.04 426.77 554.88 426.81C555.72 426.84 556.57 426.87 557.41 426.9C558.25 426.93 559.51 426.98 559.93 427" fill="none" stroke="#8c8c8c" stroke-width="1.45"/>
</g>
<g stroke="#404040" stroke-width="1.15" fill="none" stroke-linecap="butt">
<path d="M322.7 250.5H563.4V429.3H322.7Z"/>
<path d="M322.7 429.3v3.4M362.19 429.3v1.9M362.19 250.5v1.6M401.67 429.3v3.4M401.67 250.5v3.1M441.15 429.3v1.9M441.15 250.5v1.6M480.64 429.3v3.4M480.64 250.5v3.1M520.12 429.3v1.9M520.12 250.5v1.6M559.61 429.3v3.4M559.61 250.5v3.1M322.7 429.3h-3.4M322.7 414.4h-1.9M563.4 414.4h-1.6M322.7 399.5h-3.4M563.4 399.5h-3.1M322.7 384.6h-1.9M563.4 384.6h-1.6M322.7 369.7h-3.4M563.4 369.7h-3.1M322.7 354.8h-1.9M563.4 354.8h-1.6M322.7 339.9h-3.4M563.4 339.9h-3.1M322.7 325h-1.9M563.4 325h-1.6M322.7 310.1h-3.4M563.4 310.1h-3.1M322.7 295.2h-1.9M563.4 295.2h-1.6M322.7 280.3h-3.4M563.4 280.3h-3.1M322.7 265.4h-1.9M563.4 265.4h-1.6M322.7 250.5h-3.4" stroke-width="0.95"/>
</g>
<g font-size="7.4" fill="#000" stroke="#000" stroke-width="0.2">
<text x="322.7" y="440.5" text-anchor="middle">0</text>
<text x="401.67" y="440.5" text-anchor="middle">10</text>
<text x="480.64" y="440.5" text-anchor="middle">20</text>
<text x="559.61" y="440.5" text-anchor="middle">30</text>
<text x="317.4" y="431.8" text-anchor="end">0,0</text>
<text x="317.4" y="402" text-anchor="end">0,5</text>
<text x="317.4" y="372.2" text-anchor="end">1,0</text>
<text x="317.4" y="342.4" text-anchor="end">1,5</text>
<text x="317.4" y="312.6" text-anchor="end">2,0</text>
<text x="317.4" y="282.8" text-anchor="end">2,5</text>
<text x="317.4" y="253" text-anchor="end">3,0</text>
</g>
<text x="396.7" y="454.3" font-size="8.5" textLength="92.9" lengthAdjust="spacingAndGlyphs" fill="#0a0a0a" stroke="#000" stroke-width="0.25">Photo-activation time (s)</text>
<text transform="translate(297.7 359.2) rotate(-90)" font-size="8.5" textLength="40" lengthAdjust="spacingAndGlyphs" fill="#0a0a0a" stroke="#000" stroke-width="0.25">Rp (%.s-1)</text>
<text x="406.6" y="245.9" font-size="13.1" textLength="81.6" lengthAdjust="spacingAndGlyphs" fill="#000" stroke="#000" stroke-width="0.15">GDMA-P 40%</text>
<text x="290.4" y="249.8" font-size="18.7" font-weight="bold" fill="#000" textLength="11.8" lengthAdjust="spacingAndGlyphs">d</text>
<g font-size="8.6" fill="#000">
<path d="M452.3 258.5H472.3" fill="none" stroke="#222" stroke-width="1.15" stroke-dasharray="4.9 3.7"/>
<text x="474.1" y="261.5" textLength="46" lengthAdjust="spacingAndGlyphs" stroke="#000" stroke-width="0.22">CQ + EDAB</text>
<path d="M452.3 269.5H472.3" fill="none" stroke="#a6a6a6" stroke-width="1.15" stroke-dasharray="1.4 3.5"/>
<text x="474.1" y="272.5" textLength="52.8" lengthAdjust="spacingAndGlyphs" stroke="#000" stroke-width="0.22">P3C-Sb + CQ</text>
<path d="M452.3 279.5H472.3" fill="none" stroke="#222" stroke-width="1.2" stroke-dasharray="4.9 2.4 1.3 2.3"/>
<text x="474.1" y="282.5" textLength="63.1" lengthAdjust="spacingAndGlyphs" stroke="#000" stroke-width="0.22">P3C-Sb + EDAB</text>
<path d="M452.3 290.5H472.3" fill="none" stroke="#8c8c8c" stroke-width="1.45"/>
<text x="474.1" y="293.5" textLength="85.6" lengthAdjust="spacingAndGlyphs" stroke="#000" stroke-width="0.22">P3C-Sb + CQ + EDAB</text>
</g>
</g>
</svg>
</body>
</html>
